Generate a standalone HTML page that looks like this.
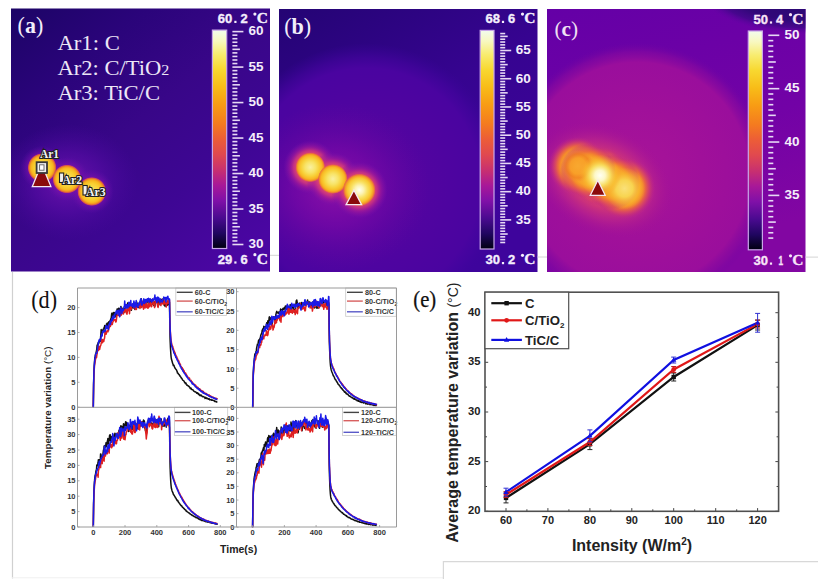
<!DOCTYPE html>
<html><head><meta charset="utf-8"><style>
html,body{margin:0;padding:0;background:#fff;width:818px;height:579px;overflow:hidden;}
svg{display:block;}
</style></head><body>
<svg width="818" height="579" viewBox="0 0 818 579">
<defs><linearGradient id="iron" x1="0" y1="0" x2="0" y2="1"><stop offset="0" stop-color="#f2fcee"/><stop offset="0.05" stop-color="#f8f8c0"/><stop offset="0.11" stop-color="#f8ec70"/><stop offset="0.18" stop-color="#f8d830"/><stop offset="0.26" stop-color="#f8bc18"/><stop offset="0.34" stop-color="#f89c14"/><stop offset="0.43" stop-color="#f47a20"/><stop offset="0.5" stop-color="#ec5c38"/><stop offset="0.57" stop-color="#e04850"/><stop offset="0.64" stop-color="#c83070"/><stop offset="0.71" stop-color="#a81898"/><stop offset="0.78" stop-color="#8010a8"/><stop offset="0.86" stop-color="#4a0a90"/><stop offset="0.93" stop-color="#200660"/><stop offset="1.0" stop-color="#000010"/></linearGradient><linearGradient id="bgA" x1="0" y1="0" x2="0.8" y2="1"><stop offset="0" stop-color="#1c0466"/><stop offset="0.25" stop-color="#2a047a"/><stop offset="0.5" stop-color="#380688"/><stop offset="0.75" stop-color="#3e0694"/><stop offset="1" stop-color="#4a06a2"/></linearGradient><clipPath id="clipA"><rect x="11" y="8.5" width="259" height="263"/></clipPath><radialGradient id="glowA"><stop offset="0" stop-color="#7414b0" stop-opacity="0.9"/><stop offset="0.5" stop-color="#5a0ca8" stop-opacity="0.6"/><stop offset="1" stop-color="#4a08a0" stop-opacity="0"/></radialGradient><radialGradient id="haloA"><stop offset="0" stop-color="#c02890" stop-opacity="1"/><stop offset="0.45" stop-color="#a01ca0" stop-opacity="0.9"/><stop offset="0.7" stop-color="#7a10ac" stop-opacity="0.5"/><stop offset="1" stop-color="#6010a8" stop-opacity="0"/></radialGradient><radialGradient id="coreA"><stop offset="0" stop-color="#f8e070" stop-opacity="1"/><stop offset="0.55" stop-color="#f8d030" stop-opacity="1"/><stop offset="0.75" stop-color="#f8b820" stop-opacity="1"/><stop offset="0.86" stop-color="#f09020" stop-opacity="1"/><stop offset="0.94" stop-color="#e86038" stop-opacity="0.8"/><stop offset="1" stop-color="#d04060" stop-opacity="0"/></radialGradient><clipPath id="clipB"><rect x="279" y="9" width="258.5" height="263"/></clipPath><linearGradient id="bgB" x1="0" y1="0" x2="0.6" y2="1"><stop offset="0" stop-color="#240474"/><stop offset="0.5" stop-color="#360490"/><stop offset="1" stop-color="#3e049c"/></linearGradient><radialGradient id="ringB"><stop offset="0" stop-color="#5a05a0" stop-opacity="1"/><stop offset="0.6" stop-color="#4e04a0" stop-opacity="1"/><stop offset="0.82" stop-color="#4a04a0" stop-opacity="1"/><stop offset="0.9" stop-color="#4604a0" stop-opacity="0.6"/><stop offset="1" stop-color="#3c049c" stop-opacity="0"/></radialGradient><radialGradient id="glowB"><stop offset="0" stop-color="#9010a8" stop-opacity="0.95"/><stop offset="0.45" stop-color="#7608a6" stop-opacity="0.75"/><stop offset="1" stop-color="#5e06a0" stop-opacity="0"/></radialGradient><radialGradient id="haloB"><stop offset="0" stop-color="#e85060" stop-opacity="1"/><stop offset="0.5" stop-color="#e04870" stop-opacity="1"/><stop offset="0.62" stop-color="#cc3480" stop-opacity="0.9"/><stop offset="0.76" stop-color="#a81c98" stop-opacity="0.6"/><stop offset="0.9" stop-color="#8814a4" stop-opacity="0.3"/><stop offset="1" stop-color="#7010a8" stop-opacity="0"/></radialGradient><radialGradient id="coreB"><stop offset="0" stop-color="#faf0a0" stop-opacity="1"/><stop offset="0.35" stop-color="#f8e468" stop-opacity="1"/><stop offset="0.6" stop-color="#f8d038" stop-opacity="1"/><stop offset="0.78" stop-color="#f8b824" stop-opacity="1"/><stop offset="0.88" stop-color="#f49424" stop-opacity="1"/><stop offset="0.95" stop-color="#e86840" stop-opacity="0.7"/><stop offset="1" stop-color="#d04060" stop-opacity="0"/></radialGradient><radialGradient id="coreB3"><stop offset="0" stop-color="#fffff0" stop-opacity="1"/><stop offset="0.25" stop-color="#fcf4b8" stop-opacity="1"/><stop offset="0.5" stop-color="#f9e060" stop-opacity="1"/><stop offset="0.72" stop-color="#f8c830" stop-opacity="1"/><stop offset="0.86" stop-color="#f49a28" stop-opacity="1"/><stop offset="0.95" stop-color="#e86840" stop-opacity="0.7"/><stop offset="1" stop-color="#d04060" stop-opacity="0"/></radialGradient><clipPath id="clipC"><rect x="547" y="9" width="258.5" height="263"/></clipPath><linearGradient id="bgC" x1="0" y1="0" x2="0.3" y2="1"><stop offset="0" stop-color="#6400a6"/><stop offset="0.6" stop-color="#7202a6"/><stop offset="1" stop-color="#8206a2"/></linearGradient><radialGradient id="ringC"><stop offset="0" stop-color="#a81498" stop-opacity="1"/><stop offset="0.5" stop-color="#a0109a" stop-opacity="1"/><stop offset="0.85" stop-color="#9a0e9c" stop-opacity="1"/><stop offset="0.93" stop-color="#8a0a9e" stop-opacity="0.6"/><stop offset="1" stop-color="#7004a2" stop-opacity="0"/></radialGradient><radialGradient id="cornerC"><stop offset="0" stop-color="#280870" stop-opacity="1"/><stop offset="0.7" stop-color="#300878" stop-opacity="1"/><stop offset="0.86" stop-color="#3c0886" stop-opacity="0.75"/><stop offset="1" stop-color="#5a04a0" stop-opacity="0"/></radialGradient><radialGradient id="glowC"><stop offset="0" stop-color="#e85050" stop-opacity="1"/><stop offset="0.45" stop-color="#d83c70" stop-opacity="0.95"/><stop offset="0.7" stop-color="#c02888" stop-opacity="0.6"/><stop offset="1" stop-color="#a01098" stop-opacity="0"/></radialGradient><radialGradient id="bodyC"><stop offset="0" stop-color="#f8a830" stop-opacity="1"/><stop offset="0.5" stop-color="#f8a028" stop-opacity="1"/><stop offset="0.6" stop-color="#f48a2c" stop-opacity="1"/><stop offset="0.7" stop-color="#ec6840" stop-opacity="0.9"/><stop offset="0.82" stop-color="#dc4860" stop-opacity="0.6"/><stop offset="0.92" stop-color="#c83078" stop-opacity="0.3"/><stop offset="1" stop-color="#c02890" stop-opacity="0"/></radialGradient><radialGradient id="spotC1"><stop offset="0" stop-color="#f8a830" stop-opacity="1"/><stop offset="0.5" stop-color="#f8a028" stop-opacity="0.9"/><stop offset="0.75" stop-color="#f08020" stop-opacity="0.7"/><stop offset="1" stop-color="#f08830" stop-opacity="0"/></radialGradient><radialGradient id="spotC3"><stop offset="0" stop-color="#fae078" stop-opacity="1"/><stop offset="0.4" stop-color="#f8d450" stop-opacity="1"/><stop offset="0.7" stop-color="#f8b830" stop-opacity="0.7"/><stop offset="1" stop-color="#f8a030" stop-opacity="0"/></radialGradient><radialGradient id="spotC2"><stop offset="0" stop-color="#fffff4" stop-opacity="1"/><stop offset="0.25" stop-color="#fdf8c8" stop-opacity="1"/><stop offset="0.5" stop-color="#f8e060" stop-opacity="0.95"/><stop offset="0.75" stop-color="#f8c030" stop-opacity="0.6"/><stop offset="1" stop-color="#f8a830" stop-opacity="0"/></radialGradient></defs>
<rect x="11" y="8.5" width="259" height="263.0" fill="url(#bgA)"/>
<g clip-path="url(#clipA)">
<ellipse cx="68" cy="182" rx="70" ry="58" fill="url(#glowA)"/>
<circle cx="42.1" cy="167.7" r="22" fill="url(#haloA)"/>
<circle cx="67" cy="179" r="22" fill="url(#haloA)"/>
<circle cx="91.8" cy="191.5" r="22" fill="url(#haloA)"/>
<circle cx="42.1" cy="167.7" r="14.5" fill="url(#coreA)"/>
<circle cx="67" cy="179" r="14.5" fill="url(#coreA)"/>
<circle cx="91.8" cy="191.5" r="14.5" fill="url(#coreA)"/>
</g>
<polygon points="41.6,164 32.3,186.6 50.9,186.6" fill="#8a0a0c" stroke="#f4e8f4" stroke-width="1.3"/>
<rect x="36.6" y="162.2" width="10.4" height="10.8" fill="#f0f0f0" stroke="#383838" stroke-width="1.8"/>
<rect x="39.6" y="164.8" width="4.4" height="5.4" fill="#ffffff" stroke="#606060" stroke-width="0.9"/>
<text x="40" y="157.8" font-family='"Liberation Serif", serif' font-weight="bold" font-size="11.5" fill="#f4f4f4" stroke="#202020" stroke-width="2.2" paint-order="stroke" text-anchor="start" textLength="19" lengthAdjust="spacingAndGlyphs">Ar1</text>
<rect x="59.5" y="173" width="4.2" height="9.5" fill="#f0f0f0" stroke="#202020" stroke-width="1.1"/>
<text x="62.5" y="184" font-family='"Liberation Serif", serif' font-weight="bold" font-size="11.5" fill="#f4f4f4" stroke="#202020" stroke-width="2.2" paint-order="stroke" text-anchor="start" textLength="19.5" lengthAdjust="spacingAndGlyphs">Ar2</text>
<rect x="83" y="185.5" width="4.2" height="9.5" fill="#f0f0f0" stroke="#202020" stroke-width="1.1"/>
<text x="86" y="196.3" font-family='"Liberation Serif", serif' font-weight="bold" font-size="11.5" fill="#f4f4f4" stroke="#202020" stroke-width="2.2" paint-order="stroke" text-anchor="start" textLength="19.5" lengthAdjust="spacingAndGlyphs">Ar3</text>
<text x="17.6" y="32.8" font-family='"Liberation Serif", serif' font-weight="bold" font-size="23" fill="#f2eefa" textLength="25.6" lengthAdjust="spacingAndGlyphs"><tspan font-weight="normal">(</tspan>a<tspan font-weight="normal">)</tspan></text>
<text x="57.4" y="49.9" font-family='"Liberation Serif", serif' font-size="21.8" fill="#ece6f6" textLength="62.4" lengthAdjust="spacingAndGlyphs">Ar1: C</text>
<text x="57.4" y="75.0" font-family='"Liberation Serif", serif' font-size="21.8" fill="#ece6f6" textLength="112" lengthAdjust="spacingAndGlyphs">Ar2: C/TiO<tspan font-size="15.5">2</tspan></text>
<text x="57.4" y="100.1" font-family='"Liberation Serif", serif' font-size="21.8" fill="#ece6f6" textLength="102.6" lengthAdjust="spacingAndGlyphs">Ar3: TiC/C</text>
<rect x="212.4" y="30.1" width="14.299999999999983" height="218.4" fill="url(#iron)" stroke="#c8a8e8" stroke-width="1.2"/>
<rect x="232.4" y="243.70" width="11" height="1.6" fill="#e6d8f4"/>
<rect x="232.4" y="240.15" width="5" height="1.6" fill="#e6d8f4"/>
<rect x="232.4" y="236.60" width="5" height="1.6" fill="#e6d8f4"/>
<rect x="232.4" y="233.06" width="5" height="1.6" fill="#e6d8f4"/>
<rect x="232.4" y="229.51" width="5" height="1.6" fill="#e6d8f4"/>
<rect x="232.4" y="225.96" width="7.5" height="1.6" fill="#e6d8f4"/>
<rect x="232.4" y="222.41" width="5" height="1.6" fill="#e6d8f4"/>
<rect x="232.4" y="218.86" width="5" height="1.6" fill="#e6d8f4"/>
<rect x="232.4" y="215.31" width="5" height="1.6" fill="#e6d8f4"/>
<rect x="232.4" y="211.76" width="5" height="1.6" fill="#e6d8f4"/>
<rect x="232.4" y="208.22" width="11" height="1.6" fill="#e6d8f4"/>
<rect x="232.4" y="204.67" width="5" height="1.6" fill="#e6d8f4"/>
<rect x="232.4" y="201.12" width="5" height="1.6" fill="#e6d8f4"/>
<rect x="232.4" y="197.57" width="5" height="1.6" fill="#e6d8f4"/>
<rect x="232.4" y="194.02" width="5" height="1.6" fill="#e6d8f4"/>
<rect x="232.4" y="190.47" width="7.5" height="1.6" fill="#e6d8f4"/>
<rect x="232.4" y="186.93" width="5" height="1.6" fill="#e6d8f4"/>
<rect x="232.4" y="183.38" width="5" height="1.6" fill="#e6d8f4"/>
<rect x="232.4" y="179.83" width="5" height="1.6" fill="#e6d8f4"/>
<rect x="232.4" y="176.28" width="5" height="1.6" fill="#e6d8f4"/>
<rect x="232.4" y="172.73" width="11" height="1.6" fill="#e6d8f4"/>
<rect x="232.4" y="169.19" width="5" height="1.6" fill="#e6d8f4"/>
<rect x="232.4" y="165.64" width="5" height="1.6" fill="#e6d8f4"/>
<rect x="232.4" y="162.09" width="5" height="1.6" fill="#e6d8f4"/>
<rect x="232.4" y="158.54" width="5" height="1.6" fill="#e6d8f4"/>
<rect x="232.4" y="154.99" width="7.5" height="1.6" fill="#e6d8f4"/>
<rect x="232.4" y="151.44" width="5" height="1.6" fill="#e6d8f4"/>
<rect x="232.4" y="147.89" width="5" height="1.6" fill="#e6d8f4"/>
<rect x="232.4" y="144.35" width="5" height="1.6" fill="#e6d8f4"/>
<rect x="232.4" y="140.80" width="5" height="1.6" fill="#e6d8f4"/>
<rect x="232.4" y="137.25" width="11" height="1.6" fill="#e6d8f4"/>
<rect x="232.4" y="133.70" width="5" height="1.6" fill="#e6d8f4"/>
<rect x="232.4" y="130.15" width="5" height="1.6" fill="#e6d8f4"/>
<rect x="232.4" y="126.61" width="5" height="1.6" fill="#e6d8f4"/>
<rect x="232.4" y="123.06" width="5" height="1.6" fill="#e6d8f4"/>
<rect x="232.4" y="119.51" width="7.5" height="1.6" fill="#e6d8f4"/>
<rect x="232.4" y="115.96" width="5" height="1.6" fill="#e6d8f4"/>
<rect x="232.4" y="112.41" width="5" height="1.6" fill="#e6d8f4"/>
<rect x="232.4" y="108.86" width="5" height="1.6" fill="#e6d8f4"/>
<rect x="232.4" y="105.32" width="5" height="1.6" fill="#e6d8f4"/>
<rect x="232.4" y="101.77" width="11" height="1.6" fill="#e6d8f4"/>
<rect x="232.4" y="98.22" width="5" height="1.6" fill="#e6d8f4"/>
<rect x="232.4" y="94.67" width="5" height="1.6" fill="#e6d8f4"/>
<rect x="232.4" y="91.12" width="5" height="1.6" fill="#e6d8f4"/>
<rect x="232.4" y="87.57" width="5" height="1.6" fill="#e6d8f4"/>
<rect x="232.4" y="84.03" width="7.5" height="1.6" fill="#e6d8f4"/>
<rect x="232.4" y="80.48" width="5" height="1.6" fill="#e6d8f4"/>
<rect x="232.4" y="76.93" width="5" height="1.6" fill="#e6d8f4"/>
<rect x="232.4" y="73.38" width="5" height="1.6" fill="#e6d8f4"/>
<rect x="232.4" y="69.83" width="5" height="1.6" fill="#e6d8f4"/>
<rect x="232.4" y="66.28" width="11" height="1.6" fill="#e6d8f4"/>
<rect x="232.4" y="62.74" width="5" height="1.6" fill="#e6d8f4"/>
<rect x="232.4" y="59.19" width="5" height="1.6" fill="#e6d8f4"/>
<rect x="232.4" y="55.64" width="5" height="1.6" fill="#e6d8f4"/>
<rect x="232.4" y="52.09" width="5" height="1.6" fill="#e6d8f4"/>
<rect x="232.4" y="48.54" width="7.5" height="1.6" fill="#e6d8f4"/>
<rect x="232.4" y="44.99" width="5" height="1.6" fill="#e6d8f4"/>
<rect x="232.4" y="41.45" width="5" height="1.6" fill="#e6d8f4"/>
<rect x="232.4" y="37.90" width="5" height="1.6" fill="#e6d8f4"/>
<rect x="232.4" y="34.35" width="5" height="1.6" fill="#e6d8f4"/>
<rect x="232.4" y="30.80" width="11" height="1.6" fill="#e6d8f4"/>
<text x="248.6" y="35.40" font-family='"Liberation Sans", sans-serif' font-weight="bold" font-size="13" fill="#f4eefa" textLength="15" lengthAdjust="spacingAndGlyphs">60</text>
<text x="248.6" y="70.88" font-family='"Liberation Sans", sans-serif' font-weight="bold" font-size="13" fill="#f4eefa" textLength="15" lengthAdjust="spacingAndGlyphs">55</text>
<text x="248.6" y="106.37" font-family='"Liberation Sans", sans-serif' font-weight="bold" font-size="13" fill="#f4eefa" textLength="15" lengthAdjust="spacingAndGlyphs">50</text>
<text x="248.6" y="141.85" font-family='"Liberation Sans", sans-serif' font-weight="bold" font-size="13" fill="#f4eefa" textLength="15" lengthAdjust="spacingAndGlyphs">45</text>
<text x="248.6" y="177.33" font-family='"Liberation Sans", sans-serif' font-weight="bold" font-size="13" fill="#f4eefa" textLength="15" lengthAdjust="spacingAndGlyphs">40</text>
<text x="248.6" y="212.82" font-family='"Liberation Sans", sans-serif' font-weight="bold" font-size="13" fill="#f4eefa" textLength="15" lengthAdjust="spacingAndGlyphs">35</text>
<text x="248.6" y="248.30" font-family='"Liberation Sans", sans-serif' font-weight="bold" font-size="13" fill="#f4eefa" textLength="15" lengthAdjust="spacingAndGlyphs">30</text>
<text x="217.8" y="23" font-family='"Liberation Sans", sans-serif' font-weight='bold' fill='#f4eefc' stroke='#f4eefc' stroke-width='0.35' font-size="12.8" textLength="14.5" lengthAdjust="spacingAndGlyphs">60</text>
<rect x="234.3" y="20.8" width="2.2" height="2.2" fill="#f4eefc"/>
<text x="240.5" y="23" font-family='"Liberation Sans", sans-serif' font-weight='bold' fill='#f4eefc' stroke='#f4eefc' stroke-width='0.35' font-size="12.8" textLength="7.2" lengthAdjust="spacingAndGlyphs">2</text>
<circle cx="254.9" cy="14.1" r="1.6" fill="#f4eefc"/>
<text x="256.7" y="23.1" font-family='"Liberation Serif", serif' font-weight="bold" fill="#f4eefc" stroke="#f4eefc" stroke-width="0.3" font-size="14" textLength="11.2" lengthAdjust="spacingAndGlyphs">C</text>
<text x="217.8" y="263.6" font-family='"Liberation Sans", sans-serif' font-weight='bold' fill='#f4eefc' stroke='#f4eefc' stroke-width='0.35' font-size="12.8" textLength="14.5" lengthAdjust="spacingAndGlyphs">29</text>
<rect x="234.3" y="261.40000000000003" width="2.2" height="2.2" fill="#f4eefc"/>
<text x="240.5" y="263.6" font-family='"Liberation Sans", sans-serif' font-weight='bold' fill='#f4eefc' stroke='#f4eefc' stroke-width='0.35' font-size="12.8" textLength="7.2" lengthAdjust="spacingAndGlyphs">6</text>
<circle cx="254.9" cy="254.7" r="1.6" fill="#f4eefc"/>
<text x="256.7" y="263.7" font-family='"Liberation Serif", serif' font-weight="bold" fill="#f4eefc" stroke="#f4eefc" stroke-width="0.3" font-size="14" textLength="11.2" lengthAdjust="spacingAndGlyphs">C</text>
<rect x="279" y="9" width="258.5" height="263" fill="url(#bgB)"/>
<g clip-path="url(#clipB)">
<circle cx="366" cy="183" r="140" fill="url(#ringB)"/>
<ellipse cx="335" cy="188" rx="95" ry="85" fill="url(#glowB)"/>
<circle cx="310.3" cy="167.3" r="27" fill="url(#haloB)"/>
<circle cx="332.9" cy="179" r="27" fill="url(#haloB)"/>
<circle cx="359.3" cy="189.9" r="28.5" fill="url(#haloB)"/>
<circle cx="310.3" cy="167.3" r="15" fill="url(#coreB)"/>
<circle cx="332.9" cy="179" r="15" fill="url(#coreB)"/>
<circle cx="359.3" cy="189.9" r="16.5" fill="url(#coreB3)"/>
</g>
<polygon points="353.9,190.2 346.1,204.6 361.6,204.6" fill="#8a0a0c" stroke="#f4e8f4" stroke-width="1.3"/>
<text x="284.2" y="34.4" font-family='"Liberation Serif", serif' font-weight="bold" font-size="22.5" fill="#f2eefa" textLength="27" lengthAdjust="spacingAndGlyphs"><tspan font-weight="normal">(</tspan>b<tspan font-weight="normal">)</tspan></text>
<rect x="480.2" y="30.4" width="13.800000000000011" height="218.6" fill="url(#iron)" stroke="#c8a8e8" stroke-width="1.2"/>
<rect x="500.2" y="241.69" width="5" height="1.6" fill="#e6d8f4"/>
<rect x="500.2" y="238.86" width="5" height="1.6" fill="#e6d8f4"/>
<rect x="500.2" y="236.04" width="5" height="1.6" fill="#e6d8f4"/>
<rect x="500.2" y="233.22" width="7.5" height="1.6" fill="#e6d8f4"/>
<rect x="500.2" y="230.39" width="5" height="1.6" fill="#e6d8f4"/>
<rect x="500.2" y="227.57" width="5" height="1.6" fill="#e6d8f4"/>
<rect x="500.2" y="224.75" width="5" height="1.6" fill="#e6d8f4"/>
<rect x="500.2" y="221.92" width="5" height="1.6" fill="#e6d8f4"/>
<rect x="500.2" y="219.10" width="11" height="1.6" fill="#e6d8f4"/>
<rect x="500.2" y="216.28" width="5" height="1.6" fill="#e6d8f4"/>
<rect x="500.2" y="213.45" width="5" height="1.6" fill="#e6d8f4"/>
<rect x="500.2" y="210.63" width="5" height="1.6" fill="#e6d8f4"/>
<rect x="500.2" y="207.81" width="5" height="1.6" fill="#e6d8f4"/>
<rect x="500.2" y="204.98" width="7.5" height="1.6" fill="#e6d8f4"/>
<rect x="500.2" y="202.16" width="5" height="1.6" fill="#e6d8f4"/>
<rect x="500.2" y="199.34" width="5" height="1.6" fill="#e6d8f4"/>
<rect x="500.2" y="196.51" width="5" height="1.6" fill="#e6d8f4"/>
<rect x="500.2" y="193.69" width="5" height="1.6" fill="#e6d8f4"/>
<rect x="500.2" y="190.87" width="11" height="1.6" fill="#e6d8f4"/>
<rect x="500.2" y="188.04" width="5" height="1.6" fill="#e6d8f4"/>
<rect x="500.2" y="185.22" width="5" height="1.6" fill="#e6d8f4"/>
<rect x="500.2" y="182.40" width="5" height="1.6" fill="#e6d8f4"/>
<rect x="500.2" y="179.57" width="5" height="1.6" fill="#e6d8f4"/>
<rect x="500.2" y="176.75" width="7.5" height="1.6" fill="#e6d8f4"/>
<rect x="500.2" y="173.93" width="5" height="1.6" fill="#e6d8f4"/>
<rect x="500.2" y="171.10" width="5" height="1.6" fill="#e6d8f4"/>
<rect x="500.2" y="168.28" width="5" height="1.6" fill="#e6d8f4"/>
<rect x="500.2" y="165.46" width="5" height="1.6" fill="#e6d8f4"/>
<rect x="500.2" y="162.63" width="11" height="1.6" fill="#e6d8f4"/>
<rect x="500.2" y="159.81" width="5" height="1.6" fill="#e6d8f4"/>
<rect x="500.2" y="156.99" width="5" height="1.6" fill="#e6d8f4"/>
<rect x="500.2" y="154.16" width="5" height="1.6" fill="#e6d8f4"/>
<rect x="500.2" y="151.34" width="5" height="1.6" fill="#e6d8f4"/>
<rect x="500.2" y="148.52" width="7.5" height="1.6" fill="#e6d8f4"/>
<rect x="500.2" y="145.69" width="5" height="1.6" fill="#e6d8f4"/>
<rect x="500.2" y="142.87" width="5" height="1.6" fill="#e6d8f4"/>
<rect x="500.2" y="140.05" width="5" height="1.6" fill="#e6d8f4"/>
<rect x="500.2" y="137.22" width="5" height="1.6" fill="#e6d8f4"/>
<rect x="500.2" y="134.40" width="11" height="1.6" fill="#e6d8f4"/>
<rect x="500.2" y="131.58" width="5" height="1.6" fill="#e6d8f4"/>
<rect x="500.2" y="128.75" width="5" height="1.6" fill="#e6d8f4"/>
<rect x="500.2" y="125.93" width="5" height="1.6" fill="#e6d8f4"/>
<rect x="500.2" y="123.11" width="5" height="1.6" fill="#e6d8f4"/>
<rect x="500.2" y="120.28" width="7.5" height="1.6" fill="#e6d8f4"/>
<rect x="500.2" y="117.46" width="5" height="1.6" fill="#e6d8f4"/>
<rect x="500.2" y="114.64" width="5" height="1.6" fill="#e6d8f4"/>
<rect x="500.2" y="111.81" width="5" height="1.6" fill="#e6d8f4"/>
<rect x="500.2" y="108.99" width="5" height="1.6" fill="#e6d8f4"/>
<rect x="500.2" y="106.17" width="11" height="1.6" fill="#e6d8f4"/>
<rect x="500.2" y="103.34" width="5" height="1.6" fill="#e6d8f4"/>
<rect x="500.2" y="100.52" width="5" height="1.6" fill="#e6d8f4"/>
<rect x="500.2" y="97.70" width="5" height="1.6" fill="#e6d8f4"/>
<rect x="500.2" y="94.87" width="5" height="1.6" fill="#e6d8f4"/>
<rect x="500.2" y="92.05" width="7.5" height="1.6" fill="#e6d8f4"/>
<rect x="500.2" y="89.23" width="5" height="1.6" fill="#e6d8f4"/>
<rect x="500.2" y="86.40" width="5" height="1.6" fill="#e6d8f4"/>
<rect x="500.2" y="83.58" width="5" height="1.6" fill="#e6d8f4"/>
<rect x="500.2" y="80.76" width="5" height="1.6" fill="#e6d8f4"/>
<rect x="500.2" y="77.93" width="11" height="1.6" fill="#e6d8f4"/>
<rect x="500.2" y="75.11" width="5" height="1.6" fill="#e6d8f4"/>
<rect x="500.2" y="72.29" width="5" height="1.6" fill="#e6d8f4"/>
<rect x="500.2" y="69.46" width="5" height="1.6" fill="#e6d8f4"/>
<rect x="500.2" y="66.64" width="5" height="1.6" fill="#e6d8f4"/>
<rect x="500.2" y="63.82" width="7.5" height="1.6" fill="#e6d8f4"/>
<rect x="500.2" y="60.99" width="5" height="1.6" fill="#e6d8f4"/>
<rect x="500.2" y="58.17" width="5" height="1.6" fill="#e6d8f4"/>
<rect x="500.2" y="55.35" width="5" height="1.6" fill="#e6d8f4"/>
<rect x="500.2" y="52.52" width="5" height="1.6" fill="#e6d8f4"/>
<rect x="500.2" y="49.70" width="11" height="1.6" fill="#e6d8f4"/>
<rect x="500.2" y="46.88" width="5" height="1.6" fill="#e6d8f4"/>
<rect x="500.2" y="44.05" width="5" height="1.6" fill="#e6d8f4"/>
<rect x="500.2" y="41.23" width="5" height="1.6" fill="#e6d8f4"/>
<rect x="500.2" y="38.41" width="5" height="1.6" fill="#e6d8f4"/>
<rect x="500.2" y="35.58" width="7.5" height="1.6" fill="#e6d8f4"/>
<rect x="500.2" y="32.76" width="5" height="1.6" fill="#e6d8f4"/>
<text x="515.7" y="54.30" font-family='"Liberation Sans", sans-serif' font-weight="bold" font-size="13" fill="#f4eefa" textLength="15" lengthAdjust="spacingAndGlyphs">65</text>
<text x="515.7" y="82.53" font-family='"Liberation Sans", sans-serif' font-weight="bold" font-size="13" fill="#f4eefa" textLength="15" lengthAdjust="spacingAndGlyphs">60</text>
<text x="515.7" y="110.77" font-family='"Liberation Sans", sans-serif' font-weight="bold" font-size="13" fill="#f4eefa" textLength="15" lengthAdjust="spacingAndGlyphs">55</text>
<text x="515.7" y="139.00" font-family='"Liberation Sans", sans-serif' font-weight="bold" font-size="13" fill="#f4eefa" textLength="15" lengthAdjust="spacingAndGlyphs">50</text>
<text x="515.7" y="167.23" font-family='"Liberation Sans", sans-serif' font-weight="bold" font-size="13" fill="#f4eefa" textLength="15" lengthAdjust="spacingAndGlyphs">45</text>
<text x="515.7" y="195.47" font-family='"Liberation Sans", sans-serif' font-weight="bold" font-size="13" fill="#f4eefa" textLength="15" lengthAdjust="spacingAndGlyphs">40</text>
<text x="515.7" y="223.70" font-family='"Liberation Sans", sans-serif' font-weight="bold" font-size="13" fill="#f4eefa" textLength="15" lengthAdjust="spacingAndGlyphs">35</text>
<text x="485.4" y="23" font-family='"Liberation Sans", sans-serif' font-weight='bold' fill='#f4eefc' stroke='#f4eefc' stroke-width='0.35' font-size="12.8" textLength="14.5" lengthAdjust="spacingAndGlyphs">68</text>
<rect x="501.9" y="20.8" width="2.2" height="2.2" fill="#f4eefc"/>
<text x="508.1" y="23" font-family='"Liberation Sans", sans-serif' font-weight='bold' fill='#f4eefc' stroke='#f4eefc' stroke-width='0.35' font-size="12.8" textLength="7.2" lengthAdjust="spacingAndGlyphs">6</text>
<circle cx="522.5" cy="14.1" r="1.6" fill="#f4eefc"/>
<text x="524.3" y="23.1" font-family='"Liberation Serif", serif' font-weight="bold" fill="#f4eefc" stroke="#f4eefc" stroke-width="0.3" font-size="14" textLength="11.2" lengthAdjust="spacingAndGlyphs">C</text>
<text x="485.4" y="264.2" font-family='"Liberation Sans", sans-serif' font-weight='bold' fill='#f4eefc' stroke='#f4eefc' stroke-width='0.35' font-size="12.8" textLength="14.5" lengthAdjust="spacingAndGlyphs">30</text>
<rect x="501.9" y="262.0" width="2.2" height="2.2" fill="#f4eefc"/>
<text x="508.1" y="264.2" font-family='"Liberation Sans", sans-serif' font-weight='bold' fill='#f4eefc' stroke='#f4eefc' stroke-width='0.35' font-size="12.8" textLength="7.2" lengthAdjust="spacingAndGlyphs">2</text>
<circle cx="522.5" cy="255.3" r="1.6" fill="#f4eefc"/>
<text x="524.3" y="264.3" font-family='"Liberation Serif", serif' font-weight="bold" fill="#f4eefc" stroke="#f4eefc" stroke-width="0.3" font-size="14" textLength="11.2" lengthAdjust="spacingAndGlyphs">C</text>
<rect x="547" y="9" width="258.5" height="263" fill="url(#bgC)"/>
<g clip-path="url(#clipC)">
<ellipse cx="808" cy="-10" rx="108" ry="44" fill="url(#cornerC)"/>
<circle cx="637" cy="174.5" r="132" fill="url(#ringC)"/>
<ellipse cx="603" cy="180" rx="74" ry="54" transform="rotate(26 603 180)" fill="url(#glowC)"/>
<circle cx="577.5" cy="166" r="29" fill="url(#bodyC)"/>
<circle cx="600" cy="176" r="30" fill="url(#bodyC)"/>
<circle cx="624" cy="188" r="31" fill="url(#bodyC)"/>
<circle cx="612" cy="182" r="28" fill="url(#bodyC)"/>
<circle cx="588" cy="171" r="28" fill="url(#bodyC)"/>
<circle cx="578" cy="166" r="16" fill="url(#spotC1)"/>
<circle cx="624.5" cy="188.5" r="21" fill="url(#spotC3)"/>
<circle cx="600" cy="175.5" r="21" fill="url(#spotC2)"/>
</g>
<polygon points="597.8,180.2 590.3,195.3 605.2,195.3" fill="#8a0a0c" stroke="#f4e8f4" stroke-width="1.3"/>
<text x="554.4" y="36.2" font-family='"Liberation Serif", serif' font-weight="bold" font-size="22" fill="#f0e0f4" textLength="23.6" lengthAdjust="spacingAndGlyphs"><tspan font-weight="normal">(</tspan>c<tspan font-weight="normal">)</tspan></text>
<rect x="748.3" y="31" width="14.100000000000023" height="218.8" fill="url(#iron)" stroke="#c8a8e8" stroke-width="1.2"/>
<rect x="768.3" y="237.29" width="5" height="1.6" fill="#e6d8f4"/>
<rect x="768.3" y="231.96" width="5" height="1.6" fill="#e6d8f4"/>
<rect x="768.3" y="226.62" width="5" height="1.6" fill="#e6d8f4"/>
<rect x="768.3" y="221.28" width="7.5" height="1.6" fill="#e6d8f4"/>
<rect x="768.3" y="215.95" width="5" height="1.6" fill="#e6d8f4"/>
<rect x="768.3" y="210.61" width="5" height="1.6" fill="#e6d8f4"/>
<rect x="768.3" y="205.27" width="5" height="1.6" fill="#e6d8f4"/>
<rect x="768.3" y="199.94" width="5" height="1.6" fill="#e6d8f4"/>
<rect x="768.3" y="194.60" width="11" height="1.6" fill="#e6d8f4"/>
<rect x="768.3" y="189.26" width="5" height="1.6" fill="#e6d8f4"/>
<rect x="768.3" y="183.93" width="5" height="1.6" fill="#e6d8f4"/>
<rect x="768.3" y="178.59" width="5" height="1.6" fill="#e6d8f4"/>
<rect x="768.3" y="173.25" width="5" height="1.6" fill="#e6d8f4"/>
<rect x="768.3" y="167.92" width="7.5" height="1.6" fill="#e6d8f4"/>
<rect x="768.3" y="162.58" width="5" height="1.6" fill="#e6d8f4"/>
<rect x="768.3" y="157.24" width="5" height="1.6" fill="#e6d8f4"/>
<rect x="768.3" y="151.91" width="5" height="1.6" fill="#e6d8f4"/>
<rect x="768.3" y="146.57" width="5" height="1.6" fill="#e6d8f4"/>
<rect x="768.3" y="141.23" width="11" height="1.6" fill="#e6d8f4"/>
<rect x="768.3" y="135.90" width="5" height="1.6" fill="#e6d8f4"/>
<rect x="768.3" y="130.56" width="5" height="1.6" fill="#e6d8f4"/>
<rect x="768.3" y="125.22" width="5" height="1.6" fill="#e6d8f4"/>
<rect x="768.3" y="119.89" width="5" height="1.6" fill="#e6d8f4"/>
<rect x="768.3" y="114.55" width="7.5" height="1.6" fill="#e6d8f4"/>
<rect x="768.3" y="109.21" width="5" height="1.6" fill="#e6d8f4"/>
<rect x="768.3" y="103.88" width="5" height="1.6" fill="#e6d8f4"/>
<rect x="768.3" y="98.54" width="5" height="1.6" fill="#e6d8f4"/>
<rect x="768.3" y="93.20" width="5" height="1.6" fill="#e6d8f4"/>
<rect x="768.3" y="87.87" width="11" height="1.6" fill="#e6d8f4"/>
<rect x="768.3" y="82.53" width="5" height="1.6" fill="#e6d8f4"/>
<rect x="768.3" y="77.19" width="5" height="1.6" fill="#e6d8f4"/>
<rect x="768.3" y="71.86" width="5" height="1.6" fill="#e6d8f4"/>
<rect x="768.3" y="66.52" width="5" height="1.6" fill="#e6d8f4"/>
<rect x="768.3" y="61.18" width="7.5" height="1.6" fill="#e6d8f4"/>
<rect x="768.3" y="55.85" width="5" height="1.6" fill="#e6d8f4"/>
<rect x="768.3" y="50.51" width="5" height="1.6" fill="#e6d8f4"/>
<rect x="768.3" y="45.17" width="5" height="1.6" fill="#e6d8f4"/>
<rect x="768.3" y="39.84" width="5" height="1.6" fill="#e6d8f4"/>
<rect x="768.3" y="34.50" width="11" height="1.6" fill="#e6d8f4"/>
<text x="784.4" y="39.10" font-family='"Liberation Sans", sans-serif' font-weight="bold" font-size="13" fill="#f4eefa" textLength="15" lengthAdjust="spacingAndGlyphs">50</text>
<text x="784.4" y="92.47" font-family='"Liberation Sans", sans-serif' font-weight="bold" font-size="13" fill="#f4eefa" textLength="15" lengthAdjust="spacingAndGlyphs">45</text>
<text x="784.4" y="145.83" font-family='"Liberation Sans", sans-serif' font-weight="bold" font-size="13" fill="#f4eefa" textLength="15" lengthAdjust="spacingAndGlyphs">40</text>
<text x="784.4" y="199.20" font-family='"Liberation Sans", sans-serif' font-weight="bold" font-size="13" fill="#f4eefa" textLength="15" lengthAdjust="spacingAndGlyphs">35</text>
<text x="753.4" y="23.6" font-family='"Liberation Sans", sans-serif' font-weight='bold' fill='#f8e4f8' stroke='#f8e4f8' stroke-width='0.35' font-size="12.8" textLength="14.5" lengthAdjust="spacingAndGlyphs">50</text>
<rect x="769.9" y="21.400000000000002" width="2.2" height="2.2" fill="#f8e4f8"/>
<text x="776.1" y="23.6" font-family='"Liberation Sans", sans-serif' font-weight='bold' fill='#f8e4f8' stroke='#f8e4f8' stroke-width='0.35' font-size="12.8" textLength="7.2" lengthAdjust="spacingAndGlyphs">4</text>
<circle cx="790.5" cy="14.7" r="1.6" fill="#f8e4f8"/>
<text x="792.3" y="23.7" font-family='"Liberation Serif", serif' font-weight="bold" fill="#f8e4f8" stroke="#f8e4f8" stroke-width="0.3" font-size="14" textLength="11.2" lengthAdjust="spacingAndGlyphs">C</text>
<text x="753.4" y="264.7" font-family='"Liberation Sans", sans-serif' font-weight='bold' fill='#f8e4f8' stroke='#f8e4f8' stroke-width='0.35' font-size="12.8" textLength="14.5" lengthAdjust="spacingAndGlyphs">30</text>
<rect x="769.9" y="262.5" width="2.2" height="2.2" fill="#f8e4f8"/>
<text x="778.5" y="264.7" font-family='"Liberation Sans", sans-serif' font-weight='bold' fill='#f8e4f8' stroke='#f8e4f8' stroke-width='0.35' font-size="12.8" textLength="4.6" lengthAdjust="spacingAndGlyphs">1</text>
<circle cx="790.5" cy="255.8" r="1.6" fill="#f8e4f8"/>
<text x="792.3" y="264.8" font-family='"Liberation Serif", serif' font-weight="bold" fill="#f8e4f8" stroke="#f8e4f8" stroke-width="0.3" font-size="14" textLength="11.2" lengthAdjust="spacingAndGlyphs">C</text>
<line x1="270" y1="255.3" x2="279" y2="255.3" stroke="#d4d4d4" stroke-width="1"/>
<line x1="537.5" y1="257" x2="547" y2="257" stroke="#d4d4d4" stroke-width="1"/>
<line x1="805.5" y1="257.1" x2="818" y2="257.1" stroke="#d4d4d4" stroke-width="1"/>
<line x1="12.5" y1="272" x2="12.5" y2="578.5" stroke="#d0d0d0" stroke-width="1.2"/>
<line x1="12" y1="577.8" x2="443" y2="577.8" stroke="#f0f0f0" stroke-width="1"/>
<text x="31.2" y="308" font-family='"Liberation Serif", serif' font-size="24.2" fill="#111" textLength="25.9" lengthAdjust="spacingAndGlyphs">(d)</text>
<line x1="77.5" y1="407.2" x2="79.5" y2="407.2" stroke="#999" stroke-width="0.8"/>
<text x="75.5" y="409.8" text-anchor="end" font-family='"Liberation Sans", sans-serif' font-weight="bold" font-size="7.5" fill="#333">0</text>
<line x1="77.5" y1="382.3" x2="79.5" y2="382.3" stroke="#999" stroke-width="0.8"/>
<text x="75.5" y="384.9" text-anchor="end" font-family='"Liberation Sans", sans-serif' font-weight="bold" font-size="7.5" fill="#333">5</text>
<line x1="77.5" y1="357.4" x2="79.5" y2="357.4" stroke="#999" stroke-width="0.8"/>
<text x="75.5" y="360.0" text-anchor="end" font-family='"Liberation Sans", sans-serif' font-weight="bold" font-size="7.5" fill="#333">10</text>
<line x1="77.5" y1="332.5" x2="79.5" y2="332.5" stroke="#999" stroke-width="0.8"/>
<text x="75.5" y="335.1" text-anchor="end" font-family='"Liberation Sans", sans-serif' font-weight="bold" font-size="7.5" fill="#333">15</text>
<line x1="77.5" y1="307.6" x2="79.5" y2="307.6" stroke="#999" stroke-width="0.8"/>
<text x="75.5" y="310.2" text-anchor="end" font-family='"Liberation Sans", sans-serif' font-weight="bold" font-size="7.5" fill="#333">20</text>
<path d="M93.3,407.2 L93.6,384.2 L93.9,371.7 L94.3,364.8 L94.6,360.5 L94.9,357.3 L95.2,356.2 L95.5,354.4 L95.8,353.1 L96.2,352.2 L96.5,350.6 L96.8,349.1 L97.1,345.2 L97.4,344.9 L97.7,344.6 L98.1,342.8 L98.4,344.0 L98.7,343.6 L99.0,341.3 L99.3,341.3 L99.6,341.7 L100.0,340.9 L100.3,341.4 L100.6,337.0 L100.9,334.0 L101.2,329.6 L101.6,331.9 L101.9,332.7 L102.2,332.8 L102.5,331.2 L102.8,331.0 L103.1,329.2 L103.5,329.8 L103.8,331.8 L104.1,327.3 L104.4,328.2 L104.7,325.6 L105.0,326.5 L105.4,325.8 L105.7,328.4 L106.0,328.4 L106.3,325.7 L106.6,323.7 L107.0,323.7 L107.3,322.9 L107.6,325.7 L107.9,323.7 L108.2,323.7 L108.5,324.1 L108.9,321.7 L109.2,321.5 L109.5,322.0 L109.8,321.3 L110.1,320.7 L110.4,320.0 L110.8,318.8 L111.1,318.9 L111.4,316.4 L111.7,313.7 L112.0,313.0 L112.3,314.9 L112.7,316.3 L113.0,315.1 L113.3,315.3 L113.6,312.6 L113.9,312.9 L114.3,312.5 L114.6,314.0 L114.9,313.4 L115.2,315.1 L115.5,316.7 L115.8,314.4 L116.2,315.4 L116.5,314.9 L116.8,312.0 L117.1,309.0 L117.4,309.9 L117.7,311.1 L118.1,309.6 L118.4,308.4 L118.7,308.3 L119.0,310.6 L119.3,311.2 L119.7,308.7 L120.0,311.0 L120.3,310.1 L120.6,307.6 L120.9,306.4 L121.2,308.6 L121.6,309.1 L121.9,309.2 L122.2,310.7 L122.5,309.4 L122.8,310.2 L123.1,308.1 L123.5,309.7 L123.8,309.8 L124.1,309.7 L124.4,308.5 L124.7,312.1 L125.0,308.1 L125.4,307.9 L125.7,307.1 L126.0,304.7 L126.3,305.4 L126.6,305.1 L127.0,305.3 L127.3,304.2 L127.6,303.8 L127.9,302.7 L128.2,304.1 L128.5,306.6 L128.9,305.6 L129.2,307.4 L129.5,306.5 L129.8,306.5 L130.1,309.6 L130.4,308.1 L130.8,308.4 L131.1,309.1 L131.4,310.2 L131.7,307.0 L132.0,304.9 L132.4,306.7 L132.7,307.5 L133.0,307.6 L133.3,307.9 L133.6,305.3 L133.9,306.6 L134.3,303.9 L134.6,308.1 L134.9,309.4 L135.2,305.6 L135.5,305.5 L135.8,308.3 L136.2,302.6 L136.5,302.0 L136.8,302.2 L137.1,307.3 L137.4,304.2 L137.8,304.0 L138.1,304.2 L138.4,304.7 L138.7,307.3 L139.0,307.7 L139.3,305.1 L139.7,302.7 L140.0,301.9 L140.3,301.9 L140.6,302.2 L140.9,301.8 L141.2,298.7 L141.6,300.6 L141.9,304.4 L142.2,303.1 L142.5,303.7 L142.8,305.3 L143.1,306.4 L143.5,303.5 L143.8,304.4 L144.1,304.1 L144.4,305.0 L144.7,302.1 L145.1,303.1 L145.4,303.7 L145.7,305.9 L146.0,306.6 L146.3,303.0 L146.6,304.5 L147.0,301.9 L147.3,301.3 L147.6,301.3 L147.9,301.4 L148.2,301.9 L148.5,300.1 L148.9,300.9 L149.2,303.9 L149.5,303.7 L149.8,300.4 L150.1,303.2 L150.4,302.8 L150.8,302.6 L151.1,300.5 L151.4,302.7 L151.7,300.1 L152.0,302.8 L152.4,302.2 L152.7,304.1 L153.0,302.8 L153.3,303.5 L153.6,305.4 L153.9,303.2 L154.3,304.3 L154.6,302.0 L154.9,306.3 L155.2,301.5 L155.5,301.8 L155.8,298.7 L156.2,298.8 L156.5,300.0 L156.8,301.1 L157.1,302.1 L157.4,300.6 L157.8,301.3 L158.1,303.9 L158.4,303.1 L158.7,301.4 L159.0,301.2 L159.3,300.7 L159.7,300.1 L160.0,304.8 L160.3,302.8 L160.6,299.5 L160.9,299.4 L161.2,300.7 L161.6,302.8 L161.9,303.1 L162.2,299.0 L162.5,300.7 L162.8,299.9 L163.1,300.6 L163.5,299.7 L163.8,302.4 L164.1,305.2 L164.4,304.0 L164.7,302.5 L165.1,306.4 L165.4,304.5 L165.7,302.7 L166.0,302.3 L166.3,302.5 L166.6,305.2 L167.0,304.9 L167.3,305.3 L167.6,302.1 L167.9,301.4 L168.2,300.5 L168.5,303.7 L168.9,304.8 L169.2,302.9 L169.5,302.2 L169.8,324.5 L170.1,339.8 L170.5,348.5 L170.8,353.3 L171.1,357.0 L171.4,359.0 L171.7,360.0 L172.0,361.0 L172.4,362.5 L172.7,363.6 L173.0,364.1 L173.3,365.5 L173.6,365.0 L173.9,365.4 L174.3,366.4 L174.6,367.4 L174.9,368.0 L175.2,368.4 L175.5,368.8 L175.8,369.1 L176.2,369.6 L176.5,370.0 L176.8,370.9 L177.1,371.2 L177.4,372.9 L177.8,373.0 L178.1,373.1 L178.4,373.9 L178.7,374.2 L179.0,374.6 L179.3,374.9 L179.7,375.5 L180.0,376.0 L180.3,376.5 L180.6,376.8 L180.9,377.0 L181.2,378.0 L181.6,378.1 L181.9,378.6 L182.2,379.1 L182.5,379.8 L182.8,380.1 L183.2,380.4 L183.5,380.6 L183.8,381.0 L184.1,381.2 L184.4,381.9 L184.7,382.6 L185.1,382.5 L185.4,383.6 L185.7,383.1 L186.0,383.1 L186.3,384.3 L186.6,384.5 L187.0,385.3 L187.3,385.1 L187.6,385.5 L187.9,385.6 L188.2,385.9 L188.6,386.4 L188.9,386.3 L189.2,386.6 L189.5,387.3 L189.8,387.3 L190.1,388.2 L190.5,388.6 L190.8,388.7 L191.1,388.1 L191.4,389.2 L191.7,389.5 L192.0,389.5 L192.4,389.7 L192.7,389.7 L193.0,389.9 L193.3,390.5 L193.6,390.9 L193.9,391.2 L194.3,391.5 L194.6,391.7 L194.9,391.8 L195.2,391.8 L195.5,391.9 L195.9,392.2 L196.2,392.6 L196.5,392.5 L196.8,393.3 L197.1,392.7 L197.4,393.2 L197.8,393.0 L198.1,393.7 L198.4,394.4 L198.7,393.6 L199.0,394.4 L199.3,394.9 L199.7,395.4 L200.0,395.6 L200.3,395.0 L200.6,395.1 L200.9,395.6 L201.2,395.1 L201.6,395.8 L201.9,395.8 L202.2,396.5 L202.5,396.6 L202.8,396.8 L203.2,396.5 L203.5,396.8 L203.8,396.9 L204.1,397.0 L204.4,397.2 L204.7,397.3 L205.1,398.4 L205.4,397.5 L205.7,397.6 L206.0,397.6 L206.3,398.1 L206.6,398.4 L207.0,398.7 L207.3,398.2 L207.6,398.8 L207.9,398.5 L208.2,398.8 L208.6,399.2 L208.9,399.0 L209.2,398.8 L209.5,399.3 L209.8,399.9 L210.1,399.5 L210.5,399.8 L210.8,399.7 L211.1,399.9 L211.4,399.8 L211.7,400.3 L212.0,400.2 L212.4,400.0 L212.7,400.3 L213.0,400.4 L213.3,400.5 L213.6,400.4 L213.9,400.5 L214.3,400.7 L214.6,401.5 L214.9,401.5 L215.2,401.4 L215.5,401.3 L215.9,401.7 L216.2,401.9 L216.5,401.6 L216.8,401.9 L217.1,402.0 L217.4,402.0" fill="none" stroke="#111111" stroke-width="1.5" stroke-linejoin="round"/>
<path d="M93.3,407.2 L93.6,386.5 L93.9,375.1 L94.3,368.6 L94.6,365.1 L94.9,363.3 L95.2,361.3 L95.5,359.5 L95.8,357.5 L96.2,357.8 L96.5,357.6 L96.8,355.4 L97.1,353.9 L97.4,351.4 L97.7,350.2 L98.1,350.4 L98.4,350.5 L98.7,345.9 L99.0,347.3 L99.3,348.5 L99.6,349.5 L100.0,347.6 L100.3,346.1 L100.6,345.7 L100.9,344.7 L101.2,343.3 L101.6,341.4 L101.9,339.4 L102.2,339.5 L102.5,342.7 L102.8,339.8 L103.1,341.7 L103.5,340.2 L103.8,341.4 L104.1,339.2 L104.4,339.0 L104.7,337.0 L105.0,330.2 L105.4,332.0 L105.7,331.2 L106.0,334.3 L106.3,333.9 L106.6,331.8 L107.0,331.8 L107.3,330.7 L107.6,330.3 L107.9,331.8 L108.2,329.7 L108.5,330.7 L108.9,326.3 L109.2,327.9 L109.5,326.4 L109.8,326.6 L110.1,324.9 L110.4,326.4 L110.8,324.3 L111.1,324.9 L111.4,322.6 L111.7,322.3 L112.0,322.7 L112.3,324.4 L112.7,322.5 L113.0,321.8 L113.3,319.1 L113.6,321.1 L113.9,320.3 L114.3,319.8 L114.6,319.8 L114.9,319.8 L115.2,319.6 L115.5,320.8 L115.8,322.0 L116.2,321.4 L116.5,319.2 L116.8,316.3 L117.1,315.5 L117.4,314.7 L117.7,314.7 L118.1,314.7 L118.4,315.4 L118.7,314.7 L119.0,312.4 L119.3,314.7 L119.7,316.5 L120.0,312.7 L120.3,313.5 L120.6,312.6 L120.9,312.1 L121.2,315.3 L121.6,310.7 L121.9,309.2 L122.2,311.0 L122.5,310.9 L122.8,311.9 L123.1,314.1 L123.5,313.8 L123.8,312.7 L124.1,310.8 L124.4,310.3 L124.7,311.1 L125.0,309.2 L125.4,311.7 L125.7,310.3 L126.0,308.9 L126.3,310.5 L126.6,313.9 L127.0,314.1 L127.3,312.2 L127.6,310.6 L127.9,307.8 L128.2,310.6 L128.5,310.4 L128.9,309.0 L129.2,309.6 L129.5,313.8 L129.8,310.4 L130.1,305.9 L130.4,305.6 L130.8,308.7 L131.1,309.5 L131.4,308.8 L131.7,304.3 L132.0,305.1 L132.4,306.4 L132.7,304.5 L133.0,306.2 L133.3,303.7 L133.6,306.8 L133.9,308.0 L134.3,306.5 L134.6,304.5 L134.9,304.6 L135.2,305.3 L135.5,309.3 L135.8,309.5 L136.2,309.4 L136.5,309.1 L136.8,307.0 L137.1,307.4 L137.4,305.6 L137.8,305.8 L138.1,306.6 L138.4,306.2 L138.7,305.4 L139.0,304.2 L139.3,305.8 L139.7,306.2 L140.0,308.4 L140.3,304.3 L140.6,302.4 L140.9,304.1 L141.2,305.5 L141.6,307.6 L141.9,306.2 L142.2,305.4 L142.5,301.4 L142.8,302.6 L143.1,305.0 L143.5,309.2 L143.8,304.7 L144.1,304.4 L144.4,307.3 L144.7,305.8 L145.1,308.0 L145.4,300.3 L145.7,300.2 L146.0,301.1 L146.3,302.8 L146.6,307.2 L147.0,306.0 L147.3,307.8 L147.6,305.1 L147.9,308.3 L148.2,307.9 L148.5,303.9 L148.9,301.0 L149.2,304.3 L149.5,306.7 L149.8,303.8 L150.1,302.2 L150.4,304.5 L150.8,305.3 L151.1,305.7 L151.4,306.7 L151.7,306.4 L152.0,302.8 L152.4,301.8 L152.7,298.9 L153.0,300.9 L153.3,302.2 L153.6,304.3 L153.9,303.9 L154.3,305.8 L154.6,307.6 L154.9,304.3 L155.2,301.1 L155.5,300.5 L155.8,299.2 L156.2,300.4 L156.5,302.7 L156.8,302.5 L157.1,303.2 L157.4,304.9 L157.8,306.8 L158.1,307.5 L158.4,305.3 L158.7,303.8 L159.0,304.0 L159.3,300.8 L159.7,301.2 L160.0,300.7 L160.3,299.3 L160.6,302.1 L160.9,305.6 L161.2,302.8 L161.6,303.8 L161.9,300.8 L162.2,300.8 L162.5,299.7 L162.8,299.5 L163.1,304.3 L163.5,302.0 L163.8,303.2 L164.1,304.0 L164.4,303.9 L164.7,301.7 L165.1,300.3 L165.4,299.3 L165.7,303.4 L166.0,303.7 L166.3,307.0 L166.6,304.9 L167.0,302.5 L167.3,303.5 L167.6,302.3 L167.9,301.7 L168.2,300.0 L168.5,302.2 L168.9,303.4 L169.2,304.0 L169.5,299.9 L169.8,316.3 L170.1,327.2 L170.5,333.5 L170.8,337.5 L171.1,340.2 L171.4,342.2 L171.7,343.7 L172.0,345.2 L172.4,346.0 L172.7,346.3 L173.0,347.6 L173.3,348.6 L173.6,349.5 L173.9,350.3 L174.3,351.0 L174.6,352.1 L174.9,352.6 L175.2,353.4 L175.5,354.4 L175.8,355.2 L176.2,356.0 L176.5,356.7 L176.8,356.9 L177.1,358.6 L177.4,358.6 L177.8,359.4 L178.1,360.1 L178.4,360.6 L178.7,360.9 L179.0,361.9 L179.3,362.6 L179.7,363.4 L180.0,363.9 L180.3,364.2 L180.6,365.2 L180.9,366.0 L181.2,366.6 L181.6,367.1 L181.9,367.8 L182.2,367.6 L182.5,368.4 L182.8,369.1 L183.2,369.2 L183.5,370.3 L183.8,370.4 L184.1,370.9 L184.4,372.1 L184.7,372.6 L185.1,373.0 L185.4,372.9 L185.7,373.3 L186.0,374.5 L186.3,374.3 L186.6,375.2 L187.0,375.6 L187.3,376.1 L187.6,376.5 L187.9,377.4 L188.2,377.6 L188.6,378.1 L188.9,378.0 L189.2,377.9 L189.5,378.1 L189.8,379.4 L190.1,380.2 L190.5,380.2 L190.8,380.8 L191.1,380.3 L191.4,381.1 L191.7,381.8 L192.0,381.7 L192.4,382.2 L192.7,383.2 L193.0,383.2 L193.3,383.5 L193.6,383.7 L193.9,384.0 L194.3,384.5 L194.6,384.7 L194.9,385.2 L195.2,385.6 L195.5,385.2 L195.9,385.9 L196.2,386.1 L196.5,387.0 L196.8,386.9 L197.1,386.9 L197.4,387.8 L197.8,387.4 L198.1,388.1 L198.4,388.1 L198.7,388.6 L199.0,388.7 L199.3,388.7 L199.7,389.4 L200.0,389.1 L200.3,390.0 L200.6,390.3 L200.9,390.1 L201.2,390.9 L201.6,390.9 L201.9,390.7 L202.2,390.9 L202.5,392.0 L202.8,391.5 L203.2,391.3 L203.5,391.8 L203.8,392.4 L204.1,392.7 L204.4,392.8 L204.7,393.3 L205.1,393.2 L205.4,393.4 L205.7,393.6 L206.0,393.4 L206.3,394.0 L206.6,394.6 L207.0,394.0 L207.3,394.8 L207.6,394.8 L207.9,394.9 L208.2,395.1 L208.6,395.5 L208.9,395.5 L209.2,394.9 L209.5,395.9 L209.8,395.9 L210.1,395.7 L210.5,396.0 L210.8,396.1 L211.1,396.2 L211.4,397.2 L211.7,397.1 L212.0,396.9 L212.4,396.9 L212.7,396.9 L213.0,397.2 L213.3,397.6 L213.6,397.6 L213.9,397.9 L214.3,397.9 L214.6,397.9 L214.9,398.3 L215.2,398.6 L215.5,398.7 L215.9,398.2 L216.2,398.3 L216.5,398.5 L216.8,398.7 L217.1,398.8 L217.4,399.2" fill="none" stroke="#e02020" stroke-width="1.5" stroke-linejoin="round"/>
<path d="M93.3,407.2 L93.6,384.9 L93.9,372.7 L94.3,366.0 L94.6,362.1 L94.9,359.0 L95.2,357.2 L95.5,356.0 L95.8,353.4 L96.2,353.2 L96.5,353.3 L96.8,353.2 L97.1,351.9 L97.4,349.4 L97.7,347.4 L98.1,345.4 L98.4,342.8 L98.7,341.0 L99.0,341.1 L99.3,339.6 L99.6,339.4 L100.0,341.1 L100.3,339.2 L100.6,339.2 L100.9,339.2 L101.2,335.1 L101.6,334.6 L101.9,336.2 L102.2,336.0 L102.5,331.4 L102.8,333.1 L103.1,332.0 L103.5,331.2 L103.8,330.7 L104.1,330.1 L104.4,331.3 L104.7,331.6 L105.0,331.0 L105.4,330.8 L105.7,328.3 L106.0,325.4 L106.3,327.8 L106.6,326.4 L107.0,328.1 L107.3,328.2 L107.6,327.3 L107.9,325.9 L108.2,325.9 L108.5,329.5 L108.9,324.2 L109.2,324.0 L109.5,324.4 L109.8,322.0 L110.1,322.8 L110.4,324.5 L110.8,321.8 L111.1,320.3 L111.4,321.5 L111.7,319.0 L112.0,318.3 L112.3,320.4 L112.7,316.2 L113.0,316.4 L113.3,318.8 L113.6,317.2 L113.9,316.7 L114.3,314.8 L114.6,317.7 L114.9,314.9 L115.2,313.4 L115.5,312.9 L115.8,312.6 L116.2,311.0 L116.5,311.1 L116.8,312.0 L117.1,314.1 L117.4,311.7 L117.7,310.5 L118.1,310.9 L118.4,311.3 L118.7,310.3 L119.0,315.4 L119.3,313.1 L119.7,316.7 L120.0,313.7 L120.3,310.5 L120.6,307.2 L120.9,309.4 L121.2,309.0 L121.6,309.5 L121.9,313.5 L122.2,310.4 L122.5,309.9 L122.8,309.4 L123.1,310.8 L123.5,309.9 L123.8,309.1 L124.1,306.4 L124.4,306.6 L124.7,301.0 L125.0,304.7 L125.4,306.4 L125.7,306.9 L126.0,308.4 L126.3,305.1 L126.6,304.7 L127.0,307.8 L127.3,307.0 L127.6,304.7 L127.9,307.8 L128.2,306.8 L128.5,306.8 L128.9,302.2 L129.2,303.0 L129.5,304.8 L129.8,306.0 L130.1,302.3 L130.4,304.3 L130.8,300.6 L131.1,305.2 L131.4,305.3 L131.7,305.4 L132.0,306.2 L132.4,305.7 L132.7,303.8 L133.0,305.1 L133.3,307.1 L133.6,303.3 L133.9,300.9 L134.3,303.3 L134.6,302.9 L134.9,307.7 L135.2,303.9 L135.5,305.9 L135.8,305.6 L136.2,300.6 L136.5,303.9 L136.8,303.4 L137.1,305.0 L137.4,307.2 L137.8,307.2 L138.1,304.6 L138.4,305.9 L138.7,305.4 L139.0,302.7 L139.3,302.7 L139.7,304.8 L140.0,300.9 L140.3,301.2 L140.6,299.0 L140.9,302.1 L141.2,299.0 L141.6,302.6 L141.9,305.2 L142.2,304.3 L142.5,303.7 L142.8,302.2 L143.1,302.8 L143.5,301.0 L143.8,298.8 L144.1,301.0 L144.4,303.5 L144.7,303.1 L145.1,300.7 L145.4,299.4 L145.7,300.7 L146.0,302.5 L146.3,301.8 L146.6,299.6 L147.0,301.4 L147.3,298.8 L147.6,299.2 L147.9,299.3 L148.2,301.0 L148.5,298.3 L148.9,299.2 L149.2,302.4 L149.5,300.0 L149.8,300.9 L150.1,298.7 L150.4,299.1 L150.8,300.7 L151.1,300.2 L151.4,301.0 L151.7,302.1 L152.0,301.1 L152.4,299.1 L152.7,299.4 L153.0,299.8 L153.3,300.8 L153.6,299.4 L153.9,299.1 L154.3,297.7 L154.6,298.0 L154.9,295.0 L155.2,299.9 L155.5,299.9 L155.8,298.9 L156.2,297.6 L156.5,301.2 L156.8,302.6 L157.1,301.3 L157.4,298.7 L157.8,297.1 L158.1,300.9 L158.4,300.0 L158.7,297.7 L159.0,298.4 L159.3,300.7 L159.7,301.3 L160.0,302.8 L160.3,299.1 L160.6,299.7 L160.9,300.2 L161.2,301.3 L161.6,300.6 L161.9,301.6 L162.2,302.2 L162.5,300.9 L162.8,300.5 L163.1,299.1 L163.5,298.9 L163.8,296.9 L164.1,298.0 L164.4,298.0 L164.7,298.1 L165.1,299.9 L165.4,297.4 L165.7,299.1 L166.0,301.9 L166.3,298.4 L166.6,297.5 L167.0,299.1 L167.3,297.4 L167.6,296.4 L167.9,296.3 L168.2,299.1 L168.5,298.1 L168.9,299.5 L169.2,299.4 L169.5,299.0 L169.8,316.7 L170.1,328.1 L170.5,335.6 L170.8,339.6 L171.1,342.6 L171.4,344.8 L171.7,346.0 L172.0,347.1 L172.4,348.0 L172.7,349.4 L173.0,349.6 L173.3,350.8 L173.6,351.5 L173.9,353.0 L174.3,353.7 L174.6,353.8 L174.9,355.0 L175.2,355.5 L175.5,356.0 L175.8,357.6 L176.2,357.7 L176.5,357.9 L176.8,359.0 L177.1,359.9 L177.4,360.4 L177.8,361.2 L178.1,361.7 L178.4,362.1 L178.7,363.2 L179.0,363.6 L179.3,364.3 L179.7,364.8 L180.0,365.4 L180.3,366.5 L180.6,366.4 L180.9,367.1 L181.2,368.2 L181.6,368.6 L181.9,369.5 L182.2,369.7 L182.5,370.0 L182.8,371.0 L183.2,371.4 L183.5,371.9 L183.8,372.4 L184.1,372.9 L184.4,373.5 L184.7,373.5 L185.1,374.2 L185.4,374.8 L185.7,374.7 L186.0,375.7 L186.3,375.7 L186.6,376.8 L187.0,376.4 L187.3,377.4 L187.6,378.0 L187.9,378.0 L188.2,378.9 L188.6,379.2 L188.9,379.2 L189.2,379.9 L189.5,380.0 L189.8,380.4 L190.1,380.8 L190.5,381.2 L190.8,381.4 L191.1,382.0 L191.4,382.0 L191.7,382.4 L192.0,383.6 L192.4,383.9 L192.7,383.2 L193.0,384.2 L193.3,384.3 L193.6,384.7 L193.9,384.9 L194.3,384.7 L194.6,385.8 L194.9,385.9 L195.2,386.2 L195.5,386.9 L195.9,387.1 L196.2,387.2 L196.5,387.4 L196.8,387.6 L197.1,388.6 L197.4,388.7 L197.8,388.0 L198.1,388.8 L198.4,388.8 L198.7,389.4 L199.0,389.8 L199.3,389.2 L199.7,390.4 L200.0,390.6 L200.3,390.3 L200.6,390.8 L200.9,391.5 L201.2,391.2 L201.6,391.2 L201.9,392.1 L202.2,392.1 L202.5,391.9 L202.8,391.7 L203.2,393.2 L203.5,392.9 L203.8,392.9 L204.1,393.4 L204.4,393.6 L204.7,393.7 L205.1,393.6 L205.4,394.2 L205.7,393.9 L206.0,394.1 L206.3,394.2 L206.6,394.2 L207.0,395.0 L207.3,395.0 L207.6,394.9 L207.9,395.0 L208.2,395.2 L208.6,395.8 L208.9,396.0 L209.2,396.4 L209.5,396.3 L209.8,396.6 L210.1,396.6 L210.5,396.8 L210.8,396.5 L211.1,396.7 L211.4,397.1 L211.7,397.6 L212.0,397.4 L212.4,397.4 L212.7,397.4 L213.0,397.7 L213.3,397.7 L213.6,398.2 L213.9,398.0 L214.3,398.1 L214.6,398.5 L214.9,398.8 L215.2,398.3 L215.5,399.1 L215.9,398.7 L216.2,399.1 L216.5,399.3 L216.8,399.3 L217.1,399.5 L217.4,399.5" fill="none" stroke="#1a1ae8" stroke-width="1.5" stroke-linejoin="round"/>
<rect x="175.8" y="288" width="50.69999999999999" height="27.5" fill="#fff" stroke="#c8c8c8" stroke-width="0.8"/>
<line x1="176.8" y1="292.3" x2="192.7" y2="292.3" stroke="#444" stroke-width="1.4"/>
<text x="194.8" y="294.90000000000003" font-family='"Liberation Sans", sans-serif' font-weight="bold" font-size="7.2" fill="#333">60-C</text>
<line x1="176.8" y1="301.1" x2="192.7" y2="301.1" stroke="#d86060" stroke-width="1.4"/>
<text x="194.8" y="303.70000000000005" font-family='"Liberation Sans", sans-serif' font-weight="bold" font-size="7.2" fill="#333">60-C/TiO<tspan font-size="5" dy="2">2</tspan></text>
<line x1="176.8" y1="311.8" x2="192.7" y2="311.8" stroke="#5a5ac8" stroke-width="1.4"/>
<text x="194.8" y="314.40000000000003" font-family='"Liberation Sans", sans-serif' font-weight="bold" font-size="7.2" fill="#333">60-TiC/C</text>
<line x1="236.5" y1="407.5" x2="238.5" y2="407.5" stroke="#999" stroke-width="0.8"/>
<text x="234.5" y="410.1" text-anchor="end" font-family='"Liberation Sans", sans-serif' font-weight="bold" font-size="7.5" fill="#333">0</text>
<line x1="236.5" y1="388.2" x2="238.5" y2="388.2" stroke="#999" stroke-width="0.8"/>
<text x="234.5" y="390.8" text-anchor="end" font-family='"Liberation Sans", sans-serif' font-weight="bold" font-size="7.5" fill="#333">5</text>
<line x1="236.5" y1="368.9" x2="238.5" y2="368.9" stroke="#999" stroke-width="0.8"/>
<text x="234.5" y="371.5" text-anchor="end" font-family='"Liberation Sans", sans-serif' font-weight="bold" font-size="7.5" fill="#333">10</text>
<line x1="236.5" y1="349.6" x2="238.5" y2="349.6" stroke="#999" stroke-width="0.8"/>
<text x="234.5" y="352.2" text-anchor="end" font-family='"Liberation Sans", sans-serif' font-weight="bold" font-size="7.5" fill="#333">15</text>
<line x1="236.5" y1="330.3" x2="238.5" y2="330.3" stroke="#999" stroke-width="0.8"/>
<text x="234.5" y="332.9" text-anchor="end" font-family='"Liberation Sans", sans-serif' font-weight="bold" font-size="7.5" fill="#333">20</text>
<line x1="236.5" y1="311.0" x2="238.5" y2="311.0" stroke="#999" stroke-width="0.8"/>
<text x="234.5" y="313.6" text-anchor="end" font-family='"Liberation Sans", sans-serif' font-weight="bold" font-size="7.5" fill="#333">25</text>
<line x1="236.5" y1="291.7" x2="238.5" y2="291.7" stroke="#999" stroke-width="0.8"/>
<text x="234.5" y="294.3" text-anchor="end" font-family='"Liberation Sans", sans-serif' font-weight="bold" font-size="7.5" fill="#333">30</text>
<path d="M252.7,407.5 L253.0,384.8 L253.3,372.7 L253.7,365.7 L254.0,362.3 L254.3,359.2 L254.6,356.3 L254.9,353.9 L255.2,353.9 L255.6,353.0 L255.9,351.8 L256.2,353.1 L256.5,348.9 L256.8,347.2 L257.1,345.9 L257.5,344.0 L257.8,344.4 L258.1,343.4 L258.4,341.4 L258.7,340.0 L259.1,341.0 L259.4,342.4 L259.7,339.6 L260.0,338.1 L260.3,339.5 L260.6,336.0 L261.0,334.6 L261.3,333.9 L261.6,333.7 L261.9,332.5 L262.2,330.1 L262.5,331.4 L262.9,328.7 L263.2,329.1 L263.5,328.8 L263.8,326.3 L264.1,327.0 L264.4,326.8 L264.8,328.1 L265.1,327.6 L265.4,326.8 L265.7,327.3 L266.0,327.7 L266.4,324.8 L266.7,322.8 L267.0,324.8 L267.3,325.3 L267.6,322.9 L267.9,320.7 L268.3,323.1 L268.6,323.1 L268.9,320.3 L269.2,317.1 L269.5,316.9 L269.8,320.4 L270.2,317.8 L270.5,318.5 L270.8,319.2 L271.1,318.2 L271.4,319.9 L271.8,320.3 L272.1,324.1 L272.4,318.9 L272.7,317.6 L273.0,317.9 L273.3,317.1 L273.7,316.7 L274.0,317.2 L274.3,317.7 L274.6,317.1 L274.9,320.4 L275.2,320.7 L275.6,318.5 L275.9,314.1 L276.2,313.2 L276.5,312.0 L276.8,311.4 L277.1,312.6 L277.5,312.2 L277.8,312.5 L278.1,313.3 L278.4,312.9 L278.7,311.9 L279.1,312.7 L279.4,313.5 L279.7,312.3 L280.0,311.8 L280.3,311.2 L280.6,309.1 L281.0,309.5 L281.3,310.0 L281.6,311.3 L281.9,312.8 L282.2,310.6 L282.5,309.3 L282.9,308.6 L283.2,308.2 L283.5,309.8 L283.8,308.9 L284.1,308.7 L284.4,307.8 L284.8,309.1 L285.1,307.0 L285.4,305.9 L285.7,308.8 L286.0,308.9 L286.4,308.7 L286.7,307.6 L287.0,305.7 L287.3,309.6 L287.6,307.0 L287.9,306.2 L288.3,307.8 L288.6,308.7 L288.9,307.2 L289.2,307.7 L289.5,308.3 L289.8,308.5 L290.2,304.5 L290.5,308.9 L290.8,304.9 L291.1,308.5 L291.4,305.8 L291.8,307.1 L292.1,306.8 L292.4,307.9 L292.7,307.9 L293.0,305.0 L293.3,307.0 L293.7,310.7 L294.0,309.5 L294.3,312.4 L294.6,311.0 L294.9,309.1 L295.2,308.9 L295.6,308.6 L295.9,304.2 L296.2,301.1 L296.5,300.4 L296.8,300.1 L297.1,301.9 L297.5,305.0 L297.8,306.5 L298.1,308.0 L298.4,308.3 L298.7,308.0 L299.1,305.8 L299.4,303.3 L299.7,303.5 L300.0,303.1 L300.3,305.3 L300.6,304.2 L301.0,306.1 L301.3,305.8 L301.6,302.5 L301.9,303.0 L302.2,304.3 L302.5,303.7 L302.9,305.4 L303.2,305.0 L303.5,306.5 L303.8,304.3 L304.1,304.7 L304.5,304.7 L304.8,304.2 L305.1,304.0 L305.4,303.8 L305.7,304.1 L306.0,304.8 L306.4,303.8 L306.7,303.4 L307.0,302.1 L307.3,301.0 L307.6,300.0 L307.9,302.0 L308.3,303.8 L308.6,303.4 L308.9,303.7 L309.2,302.0 L309.5,303.1 L309.8,302.0 L310.2,304.8 L310.5,303.3 L310.8,304.2 L311.1,305.7 L311.4,307.3 L311.8,307.7 L312.1,307.1 L312.4,303.1 L312.7,301.9 L313.0,302.0 L313.3,303.6 L313.7,303.2 L314.0,305.5 L314.3,307.8 L314.6,307.9 L314.9,306.1 L315.2,300.9 L315.6,305.4 L315.9,306.4 L316.2,307.0 L316.5,307.5 L316.8,308.1 L317.2,307.2 L317.5,307.8 L317.8,306.1 L318.1,308.1 L318.4,307.6 L318.7,307.8 L319.1,307.0 L319.4,304.8 L319.7,306.0 L320.0,305.2 L320.3,305.8 L320.6,304.8 L321.0,303.7 L321.3,304.4 L321.6,302.6 L321.9,304.8 L322.2,301.4 L322.5,304.5 L322.9,303.6 L323.2,302.6 L323.5,300.7 L323.8,302.2 L324.1,301.9 L324.5,302.1 L324.8,301.7 L325.1,301.9 L325.4,302.4 L325.7,302.9 L326.0,301.5 L326.4,302.0 L326.7,303.4 L327.0,305.6 L327.3,306.1 L327.6,307.3 L327.9,304.0 L328.3,301.9 L328.6,304.6 L328.9,304.3 L329.2,329.9 L329.5,346.6 L329.9,356.3 L330.2,362.3 L330.5,365.7 L330.8,367.9 L331.1,369.4 L331.4,370.6 L331.8,371.7 L332.1,372.4 L332.4,373.0 L332.7,374.0 L333.0,374.8 L333.3,375.8 L333.7,376.0 L334.0,376.6 L334.3,377.0 L334.6,378.2 L334.9,378.6 L335.2,379.6 L335.6,379.6 L335.9,380.0 L336.2,381.0 L336.5,381.2 L336.8,381.9 L337.2,382.2 L337.5,382.8 L337.8,383.4 L338.1,384.2 L338.4,384.4 L338.7,384.6 L339.1,385.0 L339.4,385.7 L339.7,385.9 L340.0,386.1 L340.3,387.1 L340.6,387.2 L341.0,387.6 L341.3,388.3 L341.6,388.6 L341.9,388.4 L342.2,389.1 L342.6,389.4 L342.9,390.1 L343.2,390.2 L343.5,390.5 L343.8,390.8 L344.1,391.6 L344.5,392.1 L344.8,391.7 L345.1,391.9 L345.4,392.4 L345.7,392.6 L346.0,393.5 L346.4,393.1 L346.7,393.5 L347.0,394.3 L347.3,394.4 L347.6,394.2 L347.9,394.2 L348.3,394.9 L348.6,395.3 L348.9,395.8 L349.2,395.8 L349.5,396.2 L349.9,396.1 L350.2,396.4 L350.5,396.3 L350.8,397.1 L351.1,397.1 L351.4,397.5 L351.8,397.5 L352.1,397.3 L352.4,398.1 L352.7,398.1 L353.0,398.0 L353.3,398.7 L353.7,398.7 L354.0,398.3 L354.3,399.3 L354.6,398.7 L354.9,399.1 L355.3,399.1 L355.6,399.6 L355.9,399.7 L356.2,400.1 L356.5,400.1 L356.8,400.1 L357.2,400.8 L357.5,400.3 L357.8,400.2 L358.1,400.8 L358.4,401.3 L358.7,400.7 L359.1,401.4 L359.4,401.4 L359.7,401.5 L360.0,401.1 L360.3,402.0 L360.6,401.7 L361.0,402.1 L361.3,402.4 L361.6,402.1 L361.9,402.1 L362.2,402.2 L362.6,402.1 L362.9,402.5 L363.2,402.6 L363.5,402.9 L363.8,402.5 L364.1,402.8 L364.5,402.8 L364.8,402.6 L365.1,402.7 L365.4,402.7 L365.7,403.7 L366.0,403.6 L366.4,403.7 L366.7,403.6 L367.0,403.4 L367.3,403.7 L367.6,404.1 L368.0,403.6 L368.3,403.6 L368.6,404.0 L368.9,404.1 L369.2,403.9 L369.5,404.1 L369.9,404.7 L370.2,404.3 L370.5,404.3 L370.8,403.8 L371.1,404.6 L371.4,404.5 L371.8,404.3 L372.1,404.8 L372.4,404.7 L372.7,405.0 L373.0,404.7 L373.4,405.0 L373.7,405.4 L374.0,404.9 L374.3,405.0 L374.6,405.1 L374.9,405.4 L375.3,405.4 L375.6,404.7 L375.9,405.5 L376.2,405.6 L376.5,405.1 L376.8,405.1" fill="none" stroke="#111111" stroke-width="1.5" stroke-linejoin="round"/>
<path d="M252.7,407.5 L253.0,387.0 L253.3,375.8 L253.7,370.0 L254.0,366.6 L254.3,363.9 L254.6,361.3 L254.9,360.1 L255.2,360.0 L255.6,359.4 L255.9,358.0 L256.2,355.9 L256.5,355.3 L256.8,354.9 L257.1,354.2 L257.5,352.9 L257.8,353.1 L258.1,351.8 L258.4,350.3 L258.7,346.8 L259.1,347.4 L259.4,345.5 L259.7,347.6 L260.0,345.2 L260.3,344.7 L260.6,345.3 L261.0,344.5 L261.3,342.1 L261.6,342.6 L261.9,340.2 L262.2,337.8 L262.5,336.0 L262.9,334.8 L263.2,338.7 L263.5,337.8 L263.8,338.8 L264.1,336.4 L264.4,336.2 L264.8,335.6 L265.1,334.6 L265.4,335.6 L265.7,334.8 L266.0,335.4 L266.4,330.8 L266.7,332.3 L267.0,332.1 L267.3,334.9 L267.6,335.6 L267.9,334.8 L268.3,331.3 L268.6,329.2 L268.9,328.7 L269.2,329.8 L269.5,325.9 L269.8,328.5 L270.2,329.4 L270.5,327.5 L270.8,328.8 L271.1,327.1 L271.4,324.8 L271.8,325.2 L272.1,324.4 L272.4,324.4 L272.7,325.5 L273.0,330.1 L273.3,329.2 L273.7,326.5 L274.0,327.6 L274.3,326.2 L274.6,324.0 L274.9,320.7 L275.2,323.4 L275.6,323.3 L275.9,321.8 L276.2,320.3 L276.5,322.6 L276.8,318.2 L277.1,320.3 L277.5,318.0 L277.8,318.8 L278.1,318.1 L278.4,315.4 L278.7,315.5 L279.1,316.4 L279.4,318.7 L279.7,319.3 L280.0,320.8 L280.3,315.6 L280.6,318.8 L281.0,322.2 L281.3,316.7 L281.6,314.2 L281.9,315.6 L282.2,314.1 L282.5,316.1 L282.9,316.7 L283.2,315.0 L283.5,314.2 L283.8,315.2 L284.1,312.0 L284.4,311.7 L284.8,312.5 L285.1,315.1 L285.4,314.2 L285.7,314.4 L286.0,314.0 L286.4,312.2 L286.7,313.5 L287.0,312.7 L287.3,311.3 L287.6,311.2 L287.9,307.7 L288.3,312.7 L288.6,312.4 L288.9,314.2 L289.2,313.1 L289.5,308.1 L289.8,312.4 L290.2,312.3 L290.5,310.6 L290.8,310.6 L291.1,309.1 L291.4,312.5 L291.8,309.9 L292.1,311.8 L292.4,313.2 L292.7,310.8 L293.0,309.6 L293.3,311.0 L293.7,311.9 L294.0,311.2 L294.3,310.5 L294.6,310.3 L294.9,311.6 L295.2,314.6 L295.6,309.8 L295.9,309.2 L296.2,311.2 L296.5,312.8 L296.8,312.2 L297.1,311.3 L297.5,313.7 L297.8,308.9 L298.1,307.9 L298.4,308.6 L298.7,307.8 L299.1,307.6 L299.4,305.9 L299.7,306.6 L300.0,305.0 L300.3,303.6 L300.6,306.0 L301.0,307.5 L301.3,309.0 L301.6,308.7 L301.9,309.4 L302.2,308.4 L302.5,307.4 L302.9,306.3 L303.2,308.7 L303.5,306.1 L303.8,307.0 L304.1,307.1 L304.5,307.9 L304.8,310.8 L305.1,308.5 L305.4,310.8 L305.7,307.0 L306.0,306.7 L306.4,303.9 L306.7,303.9 L307.0,303.8 L307.3,302.5 L307.6,304.3 L307.9,302.5 L308.3,304.3 L308.6,304.7 L308.9,306.5 L309.2,305.3 L309.5,304.4 L309.8,306.0 L310.2,308.1 L310.5,307.1 L310.8,305.8 L311.1,306.0 L311.4,307.6 L311.8,307.9 L312.1,307.3 L312.4,311.1 L312.7,309.6 L313.0,305.2 L313.3,307.5 L313.7,306.9 L314.0,303.3 L314.3,303.0 L314.6,302.4 L314.9,303.9 L315.2,306.8 L315.6,301.1 L315.9,302.4 L316.2,303.2 L316.5,301.2 L316.8,301.5 L317.2,303.0 L317.5,305.8 L317.8,305.7 L318.1,305.6 L318.4,306.4 L318.7,307.2 L319.1,307.9 L319.4,306.7 L319.7,306.8 L320.0,305.2 L320.3,303.2 L320.6,303.3 L321.0,303.9 L321.3,301.5 L321.6,301.8 L321.9,305.6 L322.2,306.4 L322.5,305.2 L322.9,306.4 L323.2,304.2 L323.5,307.4 L323.8,309.3 L324.1,305.4 L324.5,304.0 L324.8,306.9 L325.1,305.6 L325.4,302.7 L325.7,305.4 L326.0,306.9 L326.4,307.8 L326.7,307.9 L327.0,309.3 L327.3,307.8 L327.6,308.7 L327.9,306.6 L328.3,301.6 L328.6,304.6 L328.9,302.8 L329.2,325.9 L329.5,341.2 L329.9,349.2 L330.2,354.5 L330.5,357.9 L330.8,359.9 L331.1,361.8 L331.4,362.9 L331.8,364.2 L332.1,365.1 L332.4,366.1 L332.7,366.2 L333.0,367.5 L333.3,368.5 L333.7,368.6 L334.0,369.4 L334.3,370.5 L334.6,371.3 L334.9,372.0 L335.2,372.2 L335.6,373.2 L335.9,373.9 L336.2,374.2 L336.5,375.1 L336.8,375.6 L337.2,375.8 L337.5,376.6 L337.8,377.1 L338.1,377.9 L338.4,378.2 L338.7,379.1 L339.1,379.4 L339.4,379.9 L339.7,380.7 L340.0,381.4 L340.3,381.5 L340.6,382.1 L341.0,382.4 L341.3,383.2 L341.6,383.4 L341.9,383.7 L342.2,383.8 L342.6,384.4 L342.9,385.1 L343.2,385.3 L343.5,386.2 L343.8,386.2 L344.1,386.8 L344.5,386.9 L344.8,387.5 L345.1,388.0 L345.4,388.5 L345.7,388.4 L346.0,389.0 L346.4,389.2 L346.7,389.6 L347.0,390.5 L347.3,390.3 L347.6,390.8 L347.9,390.9 L348.3,391.2 L348.6,392.1 L348.9,392.0 L349.2,392.2 L349.5,392.4 L349.9,392.6 L350.2,393.2 L350.5,393.4 L350.8,393.5 L351.1,394.3 L351.4,393.7 L351.8,394.6 L352.1,394.3 L352.4,394.8 L352.7,394.7 L353.0,395.1 L353.3,395.6 L353.7,396.2 L354.0,396.0 L354.3,396.1 L354.6,396.3 L354.9,396.9 L355.3,397.0 L355.6,397.2 L355.9,397.2 L356.2,397.6 L356.5,397.6 L356.8,397.6 L357.2,398.1 L357.5,397.8 L357.8,398.3 L358.1,398.6 L358.4,398.4 L358.7,398.7 L359.1,399.1 L359.4,399.3 L359.7,399.3 L360.0,399.4 L360.3,399.3 L360.6,399.7 L361.0,400.0 L361.3,400.4 L361.6,400.1 L361.9,400.2 L362.2,400.2 L362.6,400.7 L362.9,401.0 L363.2,400.7 L363.5,401.0 L363.8,401.4 L364.1,400.8 L364.5,401.1 L364.8,401.4 L365.1,401.5 L365.4,401.8 L365.7,401.5 L366.0,402.0 L366.4,402.1 L366.7,402.2 L367.0,402.5 L367.3,402.1 L367.6,402.0 L368.0,402.3 L368.3,403.1 L368.6,402.7 L368.9,402.9 L369.2,402.8 L369.5,403.4 L369.9,403.5 L370.2,403.2 L370.5,403.0 L370.8,403.3 L371.1,402.8 L371.4,403.6 L371.8,403.5 L372.1,403.6 L372.4,403.8 L372.7,403.5 L373.0,404.1 L373.4,404.1 L373.7,404.0 L374.0,404.1 L374.3,403.8 L374.6,404.2 L374.9,404.1 L375.3,404.4 L375.6,404.0 L375.9,404.4 L376.2,404.4 L376.5,404.9 L376.8,404.4" fill="none" stroke="#e02020" stroke-width="1.5" stroke-linejoin="round"/>
<path d="M252.7,407.5 L253.0,385.5 L253.3,373.7 L253.7,366.1 L254.0,362.4 L254.3,360.1 L254.6,358.2 L254.9,357.3 L255.2,356.6 L255.6,354.7 L255.9,354.1 L256.2,352.1 L256.5,351.7 L256.8,352.9 L257.1,352.7 L257.5,351.7 L257.8,352.4 L258.1,349.7 L258.4,348.1 L258.7,344.8 L259.1,345.8 L259.4,344.9 L259.7,342.5 L260.0,340.6 L260.3,342.4 L260.6,338.4 L261.0,339.8 L261.3,336.9 L261.6,337.7 L261.9,338.1 L262.2,339.5 L262.5,337.9 L262.9,332.2 L263.2,334.2 L263.5,331.1 L263.8,329.5 L264.1,331.5 L264.4,329.6 L264.8,327.8 L265.1,329.6 L265.4,330.7 L265.7,328.1 L266.0,327.8 L266.4,324.2 L266.7,325.1 L267.0,328.2 L267.3,327.7 L267.6,329.3 L267.9,326.4 L268.3,324.7 L268.6,325.5 L268.9,326.7 L269.2,323.9 L269.5,324.4 L269.8,321.6 L270.2,323.9 L270.5,323.7 L270.8,323.9 L271.1,324.7 L271.4,318.2 L271.8,316.3 L272.1,319.3 L272.4,318.2 L272.7,322.1 L273.0,318.6 L273.3,316.8 L273.7,318.2 L274.0,318.9 L274.3,318.0 L274.6,317.0 L274.9,317.8 L275.2,319.0 L275.6,318.4 L275.9,318.3 L276.2,315.9 L276.5,315.7 L276.8,315.2 L277.1,318.2 L277.5,317.5 L277.8,316.9 L278.1,316.8 L278.4,315.8 L278.7,315.5 L279.1,317.5 L279.4,313.9 L279.7,311.9 L280.0,313.3 L280.3,311.9 L280.6,313.9 L281.0,315.5 L281.3,314.3 L281.6,310.4 L281.9,311.1 L282.2,314.0 L282.5,312.3 L282.9,312.8 L283.2,313.2 L283.5,311.4 L283.8,314.1 L284.1,315.7 L284.4,315.8 L284.8,311.1 L285.1,310.3 L285.4,311.1 L285.7,311.5 L286.0,309.3 L286.4,306.9 L286.7,309.1 L287.0,308.4 L287.3,304.2 L287.6,305.0 L287.9,307.0 L288.3,306.9 L288.6,307.2 L288.9,306.2 L289.2,306.2 L289.5,307.7 L289.8,307.8 L290.2,306.9 L290.5,308.2 L290.8,307.6 L291.1,308.9 L291.4,305.7 L291.8,303.3 L292.1,306.3 L292.4,304.8 L292.7,305.2 L293.0,305.5 L293.3,306.2 L293.7,305.6 L294.0,303.9 L294.3,307.0 L294.6,304.6 L294.9,305.5 L295.2,307.5 L295.6,306.7 L295.9,304.9 L296.2,305.2 L296.5,304.6 L296.8,305.4 L297.1,306.2 L297.5,303.8 L297.8,306.0 L298.1,303.6 L298.4,303.5 L298.7,304.5 L299.1,304.9 L299.4,305.2 L299.7,304.9 L300.0,304.7 L300.3,304.7 L300.6,308.0 L301.0,310.1 L301.3,306.7 L301.6,306.6 L301.9,306.4 L302.2,305.6 L302.5,306.8 L302.9,302.6 L303.2,303.1 L303.5,303.6 L303.8,305.5 L304.1,303.0 L304.5,301.9 L304.8,299.9 L305.1,299.8 L305.4,302.8 L305.7,305.3 L306.0,301.9 L306.4,303.7 L306.7,303.6 L307.0,303.6 L307.3,302.4 L307.6,301.7 L307.9,304.1 L308.3,304.7 L308.6,307.0 L308.9,304.1 L309.2,303.8 L309.5,306.3 L309.8,302.8 L310.2,302.7 L310.5,304.5 L310.8,304.3 L311.1,304.6 L311.4,303.4 L311.8,302.6 L312.1,303.5 L312.4,302.2 L312.7,307.0 L313.0,305.5 L313.3,302.9 L313.7,300.9 L314.0,300.0 L314.3,302.9 L314.6,305.6 L314.9,304.6 L315.2,299.4 L315.6,300.1 L315.9,302.3 L316.2,305.2 L316.5,303.5 L316.8,303.6 L317.2,302.0 L317.5,301.6 L317.8,305.9 L318.1,304.3 L318.4,301.8 L318.7,302.9 L319.1,304.5 L319.4,305.4 L319.7,306.1 L320.0,300.2 L320.3,298.4 L320.6,301.0 L321.0,298.9 L321.3,302.0 L321.6,302.8 L321.9,303.6 L322.2,303.1 L322.5,301.2 L322.9,297.8 L323.2,298.2 L323.5,299.9 L323.8,300.4 L324.1,301.3 L324.5,300.7 L324.8,302.6 L325.1,301.7 L325.4,300.8 L325.7,299.4 L326.0,301.8 L326.4,300.9 L326.7,300.6 L327.0,302.4 L327.3,305.5 L327.6,304.3 L327.9,301.0 L328.3,301.1 L328.6,296.4 L328.9,296.8 L329.2,325.4 L329.5,340.6 L329.9,349.5 L330.2,355.0 L330.5,358.6 L330.8,360.8 L331.1,361.9 L331.4,363.6 L331.8,364.9 L332.1,366.0 L332.4,367.1 L332.7,367.5 L333.0,368.4 L333.3,369.1 L333.7,369.9 L334.0,370.3 L334.3,370.9 L334.6,372.0 L334.9,372.9 L335.2,373.1 L335.6,373.5 L335.9,374.4 L336.2,375.0 L336.5,376.0 L336.8,376.4 L337.2,376.7 L337.5,377.3 L337.8,378.0 L338.1,378.4 L338.4,378.9 L338.7,379.6 L339.1,380.3 L339.4,381.0 L339.7,381.1 L340.0,381.7 L340.3,382.2 L340.6,382.3 L341.0,383.2 L341.3,383.6 L341.6,383.8 L341.9,384.6 L342.2,385.3 L342.6,385.4 L342.9,385.5 L343.2,386.2 L343.5,386.5 L343.8,387.3 L344.1,387.0 L344.5,388.1 L344.8,388.2 L345.1,388.4 L345.4,388.3 L345.7,389.1 L346.0,389.6 L346.4,390.1 L346.7,390.2 L347.0,390.7 L347.3,390.9 L347.6,391.0 L347.9,391.1 L348.3,391.9 L348.6,391.6 L348.9,392.7 L349.2,392.1 L349.5,393.0 L349.9,393.2 L350.2,393.5 L350.5,393.6 L350.8,393.9 L351.1,394.2 L351.4,394.6 L351.8,394.8 L352.1,394.9 L352.4,395.2 L352.7,395.5 L353.0,395.9 L353.3,395.8 L353.7,395.9 L354.0,396.5 L354.3,396.2 L354.6,396.6 L354.9,396.8 L355.3,397.4 L355.6,397.1 L355.9,397.1 L356.2,397.2 L356.5,397.9 L356.8,398.0 L357.2,398.0 L357.5,398.2 L357.8,398.7 L358.1,398.7 L358.4,398.6 L358.7,398.9 L359.1,399.2 L359.4,399.1 L359.7,399.8 L360.0,399.5 L360.3,399.9 L360.6,400.0 L361.0,399.9 L361.3,399.8 L361.6,400.2 L361.9,400.4 L362.2,400.2 L362.6,400.5 L362.9,401.4 L363.2,401.1 L363.5,401.2 L363.8,401.4 L364.1,401.7 L364.5,401.3 L364.8,401.5 L365.1,401.3 L365.4,401.8 L365.7,401.9 L366.0,402.2 L366.4,401.9 L366.7,401.9 L367.0,401.9 L367.3,402.1 L367.6,402.6 L368.0,402.3 L368.3,402.9 L368.6,402.9 L368.9,402.9 L369.2,402.4 L369.5,403.2 L369.9,403.3 L370.2,403.1 L370.5,403.0 L370.8,403.2 L371.1,403.3 L371.4,403.7 L371.8,403.7 L372.1,403.3 L372.4,403.7 L372.7,403.9 L373.0,403.9 L373.4,403.6 L373.7,403.6 L374.0,404.0 L374.3,404.3 L374.6,403.8 L374.9,404.4 L375.3,404.3 L375.6,404.3 L375.9,404.4 L376.2,404.5 L376.5,404.2 L376.8,404.5" fill="none" stroke="#1a1ae8" stroke-width="1.5" stroke-linejoin="round"/>
<rect x="345.7" y="288" width="50.5" height="28.30000000000001" fill="#fff" stroke="#c8c8c8" stroke-width="0.8"/>
<line x1="347" y1="292.3" x2="362.8" y2="292.3" stroke="#444" stroke-width="1.4"/>
<text x="365" y="294.90000000000003" font-family='"Liberation Sans", sans-serif' font-weight="bold" font-size="7.2" fill="#333">80-C</text>
<line x1="347" y1="301.1" x2="362.8" y2="301.1" stroke="#d86060" stroke-width="1.4"/>
<text x="365" y="303.70000000000005" font-family='"Liberation Sans", sans-serif' font-weight="bold" font-size="7.2" fill="#333">80-C/TiO<tspan font-size="5" dy="2">2</tspan></text>
<line x1="347" y1="311.8" x2="362.8" y2="311.8" stroke="#5a5ac8" stroke-width="1.4"/>
<text x="365" y="314.40000000000003" font-family='"Liberation Sans", sans-serif' font-weight="bold" font-size="7.2" fill="#333">80-TiC/C</text>
<line x1="77.5" y1="527.0" x2="79.5" y2="527.0" stroke="#999" stroke-width="0.8"/>
<text x="75.5" y="529.6" text-anchor="end" font-family='"Liberation Sans", sans-serif' font-weight="bold" font-size="7.5" fill="#333">0</text>
<line x1="77.5" y1="511.6" x2="79.5" y2="511.6" stroke="#999" stroke-width="0.8"/>
<text x="75.5" y="514.2" text-anchor="end" font-family='"Liberation Sans", sans-serif' font-weight="bold" font-size="7.5" fill="#333">5</text>
<line x1="77.5" y1="496.2" x2="79.5" y2="496.2" stroke="#999" stroke-width="0.8"/>
<text x="75.5" y="498.8" text-anchor="end" font-family='"Liberation Sans", sans-serif' font-weight="bold" font-size="7.5" fill="#333">10</text>
<line x1="77.5" y1="480.8" x2="79.5" y2="480.8" stroke="#999" stroke-width="0.8"/>
<text x="75.5" y="483.4" text-anchor="end" font-family='"Liberation Sans", sans-serif' font-weight="bold" font-size="7.5" fill="#333">15</text>
<line x1="77.5" y1="465.4" x2="79.5" y2="465.4" stroke="#999" stroke-width="0.8"/>
<text x="75.5" y="468.0" text-anchor="end" font-family='"Liberation Sans", sans-serif' font-weight="bold" font-size="7.5" fill="#333">20</text>
<line x1="77.5" y1="450.0" x2="79.5" y2="450.0" stroke="#999" stroke-width="0.8"/>
<text x="75.5" y="452.6" text-anchor="end" font-family='"Liberation Sans", sans-serif' font-weight="bold" font-size="7.5" fill="#333">25</text>
<line x1="77.5" y1="434.6" x2="79.5" y2="434.6" stroke="#999" stroke-width="0.8"/>
<text x="75.5" y="437.2" text-anchor="end" font-family='"Liberation Sans", sans-serif' font-weight="bold" font-size="7.5" fill="#333">30</text>
<line x1="77.5" y1="419.2" x2="79.5" y2="419.2" stroke="#999" stroke-width="0.8"/>
<text x="75.5" y="421.8" text-anchor="end" font-family='"Liberation Sans", sans-serif' font-weight="bold" font-size="7.5" fill="#333">35</text>
<path d="M93.3,527.0 L93.6,504.2 L93.9,491.8 L94.3,484.3 L94.6,480.2 L94.9,477.4 L95.2,475.1 L95.5,474.6 L95.8,472.2 L96.2,470.1 L96.5,469.6 L96.8,465.0 L97.1,465.9 L97.4,465.7 L97.7,464.6 L98.1,462.5 L98.4,459.7 L98.7,463.9 L99.0,465.0 L99.3,459.7 L99.6,459.9 L100.0,459.9 L100.3,458.9 L100.6,453.9 L100.9,454.1 L101.2,456.2 L101.6,458.5 L101.9,459.1 L102.2,457.5 L102.5,457.9 L102.8,458.4 L103.1,452.9 L103.5,449.9 L103.8,451.1 L104.1,446.2 L104.4,445.8 L104.7,447.7 L105.0,445.9 L105.4,445.2 L105.7,446.9 L106.0,442.7 L106.3,446.6 L106.6,443.5 L107.0,444.3 L107.3,441.2 L107.6,440.6 L107.9,438.4 L108.2,444.1 L108.5,443.1 L108.9,439.6 L109.2,440.7 L109.5,435.7 L109.8,435.3 L110.1,434.7 L110.4,437.3 L110.8,442.7 L111.1,440.1 L111.4,438.9 L111.7,436.5 L112.0,437.7 L112.3,440.2 L112.7,439.9 L113.0,441.8 L113.3,441.2 L113.6,438.6 L113.9,436.7 L114.3,434.3 L114.6,435.8 L114.9,433.3 L115.2,433.7 L115.5,436.6 L115.8,437.1 L116.2,435.4 L116.5,435.6 L116.8,435.7 L117.1,433.2 L117.4,435.6 L117.7,434.5 L118.1,435.1 L118.4,436.8 L118.7,434.6 L119.0,430.3 L119.3,431.2 L119.7,432.3 L120.0,428.4 L120.3,427.7 L120.6,427.3 L120.9,425.7 L121.2,426.8 L121.6,428.0 L121.9,426.4 L122.2,426.8 L122.5,430.7 L122.8,427.5 L123.1,427.4 L123.5,423.8 L123.8,425.6 L124.1,430.9 L124.4,429.5 L124.7,429.1 L125.0,424.4 L125.4,423.0 L125.7,421.7 L126.0,424.8 L126.3,425.3 L126.6,422.6 L127.0,426.6 L127.3,425.7 L127.6,423.5 L127.9,426.1 L128.2,426.1 L128.5,431.4 L128.9,426.5 L129.2,429.0 L129.5,425.2 L129.8,425.3 L130.1,429.3 L130.4,431.2 L130.8,431.8 L131.1,430.3 L131.4,426.1 L131.7,426.8 L132.0,425.8 L132.4,429.2 L132.7,427.2 L133.0,427.5 L133.3,427.0 L133.6,426.0 L133.9,423.0 L134.3,422.7 L134.6,422.8 L134.9,423.7 L135.2,425.2 L135.5,424.0 L135.8,423.4 L136.2,424.3 L136.5,424.4 L136.8,425.5 L137.1,427.5 L137.4,425.9 L137.8,428.8 L138.1,427.2 L138.4,428.4 L138.7,427.4 L139.0,423.1 L139.3,422.6 L139.7,421.9 L140.0,423.7 L140.3,426.5 L140.6,423.8 L140.9,422.0 L141.2,424.0 L141.6,424.8 L141.9,425.0 L142.2,425.3 L142.5,423.4 L142.8,421.5 L143.1,423.2 L143.5,420.0 L143.8,423.1 L144.1,422.3 L144.4,421.1 L144.7,427.8 L145.1,428.4 L145.4,430.5 L145.7,431.0 L146.0,430.3 L146.3,430.8 L146.6,433.0 L147.0,426.9 L147.3,424.2 L147.6,424.0 L147.9,423.1 L148.2,420.1 L148.5,422.8 L148.9,421.1 L149.2,424.2 L149.5,422.0 L149.8,420.6 L150.1,421.6 L150.4,422.6 L150.8,422.4 L151.1,424.6 L151.4,425.7 L151.7,424.5 L152.0,423.2 L152.4,425.4 L152.7,424.9 L153.0,423.7 L153.3,423.5 L153.6,424.4 L153.9,423.8 L154.3,423.4 L154.6,420.7 L154.9,419.7 L155.2,421.6 L155.5,419.2 L155.8,421.5 L156.2,423.9 L156.5,425.4 L156.8,424.6 L157.1,419.7 L157.4,419.8 L157.8,425.3 L158.1,424.9 L158.4,425.8 L158.7,426.6 L159.0,422.5 L159.3,420.5 L159.7,423.0 L160.0,422.0 L160.3,421.2 L160.6,420.9 L160.9,418.7 L161.2,419.0 L161.6,421.5 L161.9,421.4 L162.2,425.9 L162.5,426.1 L162.8,423.6 L163.1,423.5 L163.5,425.1 L163.8,425.9 L164.1,426.4 L164.4,424.3 L164.7,425.3 L165.1,423.6 L165.4,424.1 L165.7,422.4 L166.0,423.8 L166.3,427.1 L166.6,422.9 L167.0,423.0 L167.3,422.5 L167.6,420.8 L167.9,418.3 L168.2,419.6 L168.5,419.3 L168.9,418.6 L169.2,418.0 L169.5,422.4 L169.8,449.7 L170.1,466.8 L170.5,476.7 L170.8,482.5 L171.1,486.0 L171.4,488.3 L171.7,489.4 L172.0,490.7 L172.4,491.6 L172.7,492.4 L173.0,493.0 L173.3,494.2 L173.6,494.5 L173.9,495.1 L174.3,495.4 L174.6,496.1 L174.9,496.6 L175.2,497.2 L175.5,497.8 L175.8,497.9 L176.2,498.6 L176.5,499.6 L176.8,499.5 L177.1,500.5 L177.4,500.4 L177.8,500.5 L178.1,501.7 L178.4,501.8 L178.7,502.4 L179.0,503.0 L179.3,503.0 L179.7,503.8 L180.0,504.1 L180.3,504.6 L180.6,504.9 L180.9,505.4 L181.2,505.8 L181.6,505.7 L181.9,506.2 L182.2,506.9 L182.5,507.1 L182.8,507.4 L183.2,507.9 L183.5,508.1 L183.8,508.4 L184.1,508.5 L184.4,509.2 L184.7,509.3 L185.1,509.7 L185.4,510.0 L185.7,510.0 L186.0,510.5 L186.3,511.3 L186.6,511.0 L187.0,511.6 L187.3,511.8 L187.6,512.0 L187.9,512.2 L188.2,512.5 L188.6,512.8 L188.9,512.8 L189.2,513.1 L189.5,513.2 L189.8,513.6 L190.1,514.0 L190.5,513.9 L190.8,514.3 L191.1,514.6 L191.4,514.7 L191.7,514.9 L192.0,515.4 L192.4,515.3 L192.7,515.4 L193.0,515.7 L193.3,516.0 L193.6,516.0 L193.9,516.4 L194.3,516.5 L194.6,516.6 L194.9,516.8 L195.2,517.1 L195.5,517.0 L195.9,517.6 L196.2,517.4 L196.5,517.8 L196.8,517.7 L197.1,517.7 L197.4,517.9 L197.8,518.3 L198.1,518.6 L198.4,518.6 L198.7,519.0 L199.0,518.7 L199.3,519.4 L199.7,519.1 L200.0,519.6 L200.3,519.6 L200.6,519.5 L200.9,520.0 L201.2,520.0 L201.6,520.4 L201.9,519.8 L202.2,520.4 L202.5,520.3 L202.8,520.4 L203.2,520.8 L203.5,520.8 L203.8,520.7 L204.1,520.9 L204.4,521.1 L204.7,521.1 L205.1,521.4 L205.4,521.2 L205.7,521.3 L206.0,521.7 L206.3,521.4 L206.6,521.7 L207.0,521.8 L207.3,521.7 L207.6,522.1 L207.9,521.9 L208.2,522.0 L208.6,522.0 L208.9,521.9 L209.2,522.5 L209.5,522.4 L209.8,522.4 L210.1,522.5 L210.5,522.6 L210.8,522.6 L211.1,523.1 L211.4,523.0 L211.7,523.1 L212.0,523.0 L212.4,523.3 L212.7,523.1 L213.0,523.2 L213.3,523.3 L213.6,523.1 L213.9,523.3 L214.3,523.5 L214.6,523.6 L214.9,523.5 L215.2,523.2 L215.5,523.7 L215.9,523.8 L216.2,524.2 L216.5,523.7 L216.8,524.0 L217.1,524.2 L217.4,523.9" fill="none" stroke="#111111" stroke-width="1.5" stroke-linejoin="round"/>
<path d="M93.3,527.0 L93.6,506.3 L93.9,495.2 L94.3,489.4 L94.6,485.1 L94.9,482.6 L95.2,480.8 L95.5,479.4 L95.8,477.0 L96.2,475.7 L96.5,474.1 L96.8,474.5 L97.1,474.6 L97.4,475.2 L97.7,474.0 L98.1,477.2 L98.4,470.9 L98.7,469.8 L99.0,468.9 L99.3,466.3 L99.6,467.3 L100.0,466.1 L100.3,463.8 L100.6,467.6 L100.9,461.8 L101.2,461.9 L101.6,460.6 L101.9,463.4 L102.2,463.6 L102.5,458.1 L102.8,459.9 L103.1,460.3 L103.5,458.2 L103.8,454.6 L104.1,461.2 L104.4,455.5 L104.7,455.0 L105.0,452.9 L105.4,456.0 L105.7,454.3 L106.0,450.1 L106.3,451.5 L106.6,453.3 L107.0,453.6 L107.3,453.7 L107.6,450.5 L107.9,449.9 L108.2,450.9 L108.5,448.3 L108.9,451.0 L109.2,453.1 L109.5,445.0 L109.8,447.5 L110.1,443.5 L110.4,445.0 L110.8,446.0 L111.1,444.6 L111.4,446.8 L111.7,447.8 L112.0,446.7 L112.3,446.4 L112.7,443.4 L113.0,438.8 L113.3,443.3 L113.6,444.9 L113.9,441.9 L114.3,440.6 L114.6,438.4 L114.9,441.3 L115.2,439.6 L115.5,440.1 L115.8,443.8 L116.2,440.9 L116.5,443.8 L116.8,440.4 L117.1,440.7 L117.4,440.2 L117.7,434.3 L118.1,432.4 L118.4,433.7 L118.7,434.4 L119.0,437.4 L119.3,434.2 L119.7,433.8 L120.0,436.9 L120.3,440.3 L120.6,438.3 L120.9,437.4 L121.2,434.4 L121.6,437.1 L121.9,438.1 L122.2,435.5 L122.5,434.8 L122.8,432.3 L123.1,430.4 L123.5,433.9 L123.8,439.2 L124.1,436.4 L124.4,436.6 L124.7,434.3 L125.0,439.8 L125.4,436.7 L125.7,434.5 L126.0,434.7 L126.3,432.2 L126.6,431.8 L127.0,431.1 L127.3,428.2 L127.6,426.5 L127.9,425.8 L128.2,427.2 L128.5,428.4 L128.9,428.1 L129.2,428.4 L129.5,430.9 L129.8,429.6 L130.1,427.6 L130.4,429.5 L130.8,432.1 L131.1,429.6 L131.4,431.2 L131.7,433.7 L132.0,432.2 L132.4,434.1 L132.7,430.9 L133.0,431.1 L133.3,429.8 L133.6,426.5 L133.9,424.7 L134.3,426.5 L134.6,432.4 L134.9,431.5 L135.2,432.5 L135.5,428.3 L135.8,424.4 L136.2,424.2 L136.5,424.1 L136.8,424.3 L137.1,424.0 L137.4,426.2 L137.8,424.5 L138.1,426.3 L138.4,429.2 L138.7,427.9 L139.0,423.7 L139.3,425.4 L139.7,429.9 L140.0,425.5 L140.3,425.3 L140.6,424.4 L140.9,426.2 L141.2,425.0 L141.6,421.7 L141.9,425.1 L142.2,423.8 L142.5,423.8 L142.8,426.6 L143.1,425.7 L143.5,424.2 L143.8,426.7 L144.1,423.4 L144.4,426.8 L144.7,425.4 L145.1,426.6 L145.4,428.6 L145.7,432.5 L146.0,434.7 L146.3,439.0 L146.6,435.9 L147.0,433.7 L147.3,430.2 L147.6,426.2 L147.9,424.9 L148.2,424.4 L148.5,422.1 L148.9,423.2 L149.2,423.8 L149.5,426.7 L149.8,423.2 L150.1,425.2 L150.4,420.3 L150.8,424.0 L151.1,425.1 L151.4,424.4 L151.7,425.8 L152.0,428.3 L152.4,429.0 L152.7,428.5 L153.0,426.9 L153.3,423.3 L153.6,421.9 L153.9,422.0 L154.3,420.9 L154.6,427.1 L154.9,426.9 L155.2,426.7 L155.5,427.6 L155.8,424.6 L156.2,425.6 L156.5,427.1 L156.8,423.4 L157.1,424.8 L157.4,424.7 L157.8,427.5 L158.1,423.5 L158.4,423.2 L158.7,419.9 L159.0,416.3 L159.3,417.8 L159.7,421.0 L160.0,423.7 L160.3,419.6 L160.6,421.6 L160.9,420.8 L161.2,421.2 L161.6,429.7 L161.9,426.3 L162.2,424.4 L162.5,423.2 L162.8,423.3 L163.1,422.5 L163.5,424.9 L163.8,422.5 L164.1,423.8 L164.4,422.9 L164.7,419.0 L165.1,420.1 L165.4,423.6 L165.7,422.3 L166.0,425.7 L166.3,423.9 L166.6,420.1 L167.0,423.6 L167.3,423.4 L167.6,425.0 L167.9,423.4 L168.2,422.2 L168.5,421.9 L168.9,422.7 L169.2,426.9 L169.5,426.9 L169.8,440.4 L170.1,452.4 L170.5,460.4 L170.8,464.5 L171.1,468.0 L171.4,470.4 L171.7,471.5 L172.0,473.1 L172.4,474.6 L172.7,475.5 L173.0,476.5 L173.3,477.9 L173.6,478.3 L173.9,479.7 L174.3,480.3 L174.6,481.5 L174.9,482.6 L175.2,483.3 L175.5,484.1 L175.8,484.8 L176.2,486.0 L176.5,486.6 L176.8,487.2 L177.1,488.1 L177.4,488.9 L177.8,489.4 L178.1,490.5 L178.4,490.6 L178.7,491.8 L179.0,492.3 L179.3,493.0 L179.7,493.5 L180.0,494.4 L180.3,495.1 L180.6,495.5 L180.9,496.1 L181.2,496.8 L181.6,497.0 L181.9,497.8 L182.2,498.2 L182.5,498.8 L182.8,499.4 L183.2,500.2 L183.5,500.3 L183.8,501.2 L184.1,501.6 L184.4,501.9 L184.7,502.5 L185.1,503.3 L185.4,503.6 L185.7,504.2 L186.0,504.3 L186.3,505.0 L186.6,505.3 L187.0,505.9 L187.3,506.3 L187.6,506.5 L187.9,507.2 L188.2,507.4 L188.6,507.8 L188.9,508.2 L189.2,508.7 L189.5,508.6 L189.8,509.5 L190.1,509.8 L190.5,510.0 L190.8,510.2 L191.1,510.7 L191.4,511.2 L191.7,511.3 L192.0,511.7 L192.4,511.9 L192.7,511.8 L193.0,512.8 L193.3,512.7 L193.6,512.9 L193.9,513.3 L194.3,513.5 L194.6,513.5 L194.9,514.0 L195.2,514.6 L195.5,514.6 L195.9,514.7 L196.2,515.1 L196.5,515.3 L196.8,515.4 L197.1,515.8 L197.4,515.9 L197.8,516.0 L198.1,516.4 L198.4,516.8 L198.7,516.5 L199.0,516.8 L199.3,517.3 L199.7,517.6 L200.0,517.5 L200.3,517.6 L200.6,517.8 L200.9,518.0 L201.2,518.3 L201.6,518.5 L201.9,518.8 L202.2,518.9 L202.5,519.0 L202.8,518.8 L203.2,519.4 L203.5,519.0 L203.8,519.3 L204.1,519.7 L204.4,519.9 L204.7,519.9 L205.1,520.0 L205.4,520.1 L205.7,520.7 L206.0,520.5 L206.3,520.5 L206.6,520.5 L207.0,520.7 L207.3,521.0 L207.6,521.0 L207.9,521.3 L208.2,521.0 L208.6,521.2 L208.9,521.4 L209.2,521.7 L209.5,521.7 L209.8,521.8 L210.1,521.9 L210.5,521.7 L210.8,521.7 L211.1,522.0 L211.4,522.5 L211.7,522.3 L212.0,522.6 L212.4,522.6 L212.7,522.3 L213.0,523.1 L213.3,523.1 L213.6,523.0 L213.9,522.8 L214.3,523.1 L214.6,523.5 L214.9,523.1 L215.2,523.2 L215.5,523.1 L215.9,523.4 L216.2,523.3 L216.5,523.7 L216.8,523.5 L217.1,523.5 L217.4,523.8" fill="none" stroke="#e02020" stroke-width="1.5" stroke-linejoin="round"/>
<path d="M93.3,527.0 L93.6,504.7 L93.9,492.7 L94.3,486.3 L94.6,481.3 L94.9,480.0 L95.2,477.9 L95.5,475.6 L95.8,474.0 L96.2,472.6 L96.5,473.1 L96.8,469.6 L97.1,470.4 L97.4,469.6 L97.7,468.6 L98.1,467.7 L98.4,467.7 L98.7,463.5 L99.0,463.5 L99.3,461.2 L99.6,465.1 L100.0,462.1 L100.3,461.9 L100.6,460.1 L100.9,459.1 L101.2,457.8 L101.6,457.9 L101.9,457.2 L102.2,456.4 L102.5,455.4 L102.8,455.0 L103.1,455.4 L103.5,453.5 L103.8,455.0 L104.1,449.2 L104.4,448.3 L104.7,446.1 L105.0,448.2 L105.4,451.7 L105.7,453.9 L106.0,453.2 L106.3,452.2 L106.6,450.9 L107.0,449.9 L107.3,447.0 L107.6,451.7 L107.9,445.2 L108.2,445.8 L108.5,444.8 L108.9,448.4 L109.2,445.6 L109.5,447.6 L109.8,444.3 L110.1,442.7 L110.4,441.8 L110.8,442.0 L111.1,442.1 L111.4,442.0 L111.7,439.1 L112.0,439.2 L112.3,438.7 L112.7,433.5 L113.0,435.5 L113.3,438.7 L113.6,443.2 L113.9,446.0 L114.3,441.7 L114.6,437.6 L114.9,439.3 L115.2,440.4 L115.5,438.8 L115.8,437.0 L116.2,434.1 L116.5,434.7 L116.8,436.0 L117.1,433.7 L117.4,435.9 L117.7,438.1 L118.1,438.5 L118.4,436.8 L118.7,436.0 L119.0,434.5 L119.3,433.5 L119.7,427.6 L120.0,428.7 L120.3,434.7 L120.6,436.4 L120.9,433.7 L121.2,434.3 L121.6,427.9 L121.9,430.1 L122.2,431.1 L122.5,430.4 L122.8,430.7 L123.1,429.1 L123.5,429.9 L123.8,428.9 L124.1,430.4 L124.4,435.6 L124.7,431.6 L125.0,426.6 L125.4,429.5 L125.7,430.2 L126.0,427.5 L126.3,428.8 L126.6,428.1 L127.0,428.3 L127.3,426.6 L127.6,427.2 L127.9,422.7 L128.2,424.5 L128.5,426.1 L128.9,429.5 L129.2,427.9 L129.5,429.3 L129.8,426.5 L130.1,425.1 L130.4,419.6 L130.8,424.2 L131.1,424.6 L131.4,422.7 L131.7,428.4 L132.0,425.6 L132.4,421.4 L132.7,422.9 L133.0,423.9 L133.3,421.6 L133.6,422.4 L133.9,422.8 L134.3,421.7 L134.6,424.6 L134.9,420.3 L135.2,422.8 L135.5,423.4 L135.8,424.6 L136.2,430.0 L136.5,430.8 L136.8,428.5 L137.1,426.3 L137.4,422.6 L137.8,417.1 L138.1,418.4 L138.4,420.9 L138.7,423.4 L139.0,420.2 L139.3,422.9 L139.7,423.0 L140.0,420.0 L140.3,421.6 L140.6,422.5 L140.9,422.3 L141.2,426.1 L141.6,424.8 L141.9,423.4 L142.2,422.2 L142.5,423.1 L142.8,427.6 L143.1,426.9 L143.5,423.1 L143.8,424.4 L144.1,425.4 L144.4,422.7 L144.7,423.2 L145.1,425.0 L145.4,425.6 L145.7,425.8 L146.0,426.6 L146.3,427.3 L146.6,423.9 L147.0,427.9 L147.3,421.9 L147.6,422.0 L147.9,423.2 L148.2,419.8 L148.5,418.2 L148.9,422.3 L149.2,421.4 L149.5,419.5 L149.8,418.4 L150.1,419.6 L150.4,422.6 L150.8,422.1 L151.1,416.8 L151.4,420.7 L151.7,414.1 L152.0,417.3 L152.4,419.1 L152.7,421.1 L153.0,420.6 L153.3,420.2 L153.6,422.7 L153.9,417.3 L154.3,416.1 L154.6,417.3 L154.9,421.7 L155.2,422.0 L155.5,421.7 L155.8,419.4 L156.2,420.2 L156.5,422.8 L156.8,422.2 L157.1,421.8 L157.4,421.2 L157.8,418.9 L158.1,421.2 L158.4,424.2 L158.7,419.8 L159.0,417.9 L159.3,421.6 L159.7,419.4 L160.0,420.9 L160.3,419.0 L160.6,418.4 L160.9,422.3 L161.2,423.6 L161.6,422.4 L161.9,424.4 L162.2,425.1 L162.5,424.7 L162.8,423.0 L163.1,421.9 L163.5,422.7 L163.8,422.0 L164.1,418.5 L164.4,417.9 L164.7,417.9 L165.1,420.3 L165.4,421.6 L165.7,423.5 L166.0,423.8 L166.3,426.0 L166.6,423.6 L167.0,422.8 L167.3,422.9 L167.6,422.9 L167.9,424.3 L168.2,420.5 L168.5,418.4 L168.9,415.9 L169.2,416.3 L169.5,417.5 L169.8,439.5 L170.1,453.3 L170.5,461.3 L170.8,465.8 L171.1,469.2 L171.4,471.6 L171.7,473.1 L172.0,474.8 L172.4,475.9 L172.7,477.0 L173.0,478.4 L173.3,479.1 L173.6,480.0 L173.9,481.0 L174.3,482.0 L174.6,482.9 L174.9,484.1 L175.2,484.6 L175.5,485.1 L175.8,485.9 L176.2,486.9 L176.5,487.8 L176.8,488.2 L177.1,489.0 L177.4,489.8 L177.8,490.8 L178.1,491.2 L178.4,491.9 L178.7,492.8 L179.0,493.6 L179.3,494.1 L179.7,494.6 L180.0,495.2 L180.3,495.8 L180.6,496.5 L180.9,497.2 L181.2,497.6 L181.6,498.1 L181.9,498.8 L182.2,499.3 L182.5,499.9 L182.8,500.6 L183.2,501.0 L183.5,501.5 L183.8,502.2 L184.1,502.5 L184.4,503.0 L184.7,503.4 L185.1,503.7 L185.4,504.3 L185.7,504.8 L186.0,505.1 L186.3,505.8 L186.6,505.9 L187.0,506.2 L187.3,506.7 L187.6,506.9 L187.9,507.7 L188.2,508.3 L188.6,508.2 L188.9,508.3 L189.2,509.2 L189.5,509.1 L189.8,509.8 L190.1,509.8 L190.5,510.5 L190.8,510.8 L191.1,511.0 L191.4,511.6 L191.7,511.6 L192.0,512.0 L192.4,512.1 L192.7,512.5 L193.0,512.8 L193.3,513.1 L193.6,513.0 L193.9,513.5 L194.3,513.9 L194.6,514.5 L194.9,514.1 L195.2,514.6 L195.5,514.8 L195.9,515.0 L196.2,515.3 L196.5,515.3 L196.8,515.8 L197.1,515.9 L197.4,516.2 L197.8,516.3 L198.1,516.6 L198.4,516.7 L198.7,517.0 L199.0,517.2 L199.3,517.3 L199.7,517.7 L200.0,517.9 L200.3,518.0 L200.6,518.1 L200.9,518.1 L201.2,518.8 L201.6,518.4 L201.9,518.9 L202.2,519.1 L202.5,519.1 L202.8,519.2 L203.2,519.2 L203.5,520.0 L203.8,519.5 L204.1,519.8 L204.4,519.7 L204.7,520.2 L205.1,520.5 L205.4,520.4 L205.7,520.6 L206.0,520.5 L206.3,520.6 L206.6,521.3 L207.0,521.3 L207.3,521.1 L207.6,521.4 L207.9,521.2 L208.2,521.2 L208.6,521.2 L208.9,521.7 L209.2,521.6 L209.5,521.8 L209.8,521.9 L210.1,522.1 L210.5,522.0 L210.8,522.1 L211.1,522.4 L211.4,522.5 L211.7,522.9 L212.0,522.6 L212.4,522.7 L212.7,523.0 L213.0,522.6 L213.3,522.9 L213.6,523.2 L213.9,523.2 L214.3,523.4 L214.6,523.4 L214.9,523.6 L215.2,523.4 L215.5,523.8 L215.9,523.7 L216.2,523.6 L216.5,523.7 L216.8,523.7 L217.1,523.9 L217.4,524.0" fill="none" stroke="#1a1ae8" stroke-width="1.5" stroke-linejoin="round"/>
<rect x="174.5" y="407.3" width="53.19999999999999" height="28.099999999999966" fill="#fff" stroke="#c8c8c8" stroke-width="0.8"/>
<line x1="174.8" y1="412.4" x2="190.5" y2="412.4" stroke="#444" stroke-width="1.4"/>
<text x="192" y="415.0" font-family='"Liberation Sans", sans-serif' font-weight="bold" font-size="7.2" fill="#333">100-C</text>
<line x1="174.8" y1="420.7" x2="190.5" y2="420.7" stroke="#d86060" stroke-width="1.4"/>
<text x="192" y="423.3" font-family='"Liberation Sans", sans-serif' font-weight="bold" font-size="7.2" fill="#333">100-C/TiO<tspan font-size="5" dy="2">2</tspan></text>
<line x1="174.8" y1="431.8" x2="190.5" y2="431.8" stroke="#5a5ac8" stroke-width="1.4"/>
<text x="192" y="434.40000000000003" font-family='"Liberation Sans", sans-serif' font-weight="bold" font-size="7.2" fill="#333">100-TiC/C</text>
<line x1="236.5" y1="527.2" x2="238.5" y2="527.2" stroke="#999" stroke-width="0.8"/>
<text x="234.5" y="529.8" text-anchor="end" font-family='"Liberation Sans", sans-serif' font-weight="bold" font-size="7.5" fill="#333">0</text>
<line x1="236.5" y1="513.6" x2="238.5" y2="513.6" stroke="#999" stroke-width="0.8"/>
<text x="234.5" y="516.2" text-anchor="end" font-family='"Liberation Sans", sans-serif' font-weight="bold" font-size="7.5" fill="#333">5</text>
<line x1="236.5" y1="500.0" x2="238.5" y2="500.0" stroke="#999" stroke-width="0.8"/>
<text x="234.5" y="502.6" text-anchor="end" font-family='"Liberation Sans", sans-serif' font-weight="bold" font-size="7.5" fill="#333">10</text>
<line x1="236.5" y1="486.4" x2="238.5" y2="486.4" stroke="#999" stroke-width="0.8"/>
<text x="234.5" y="489.0" text-anchor="end" font-family='"Liberation Sans", sans-serif' font-weight="bold" font-size="7.5" fill="#333">15</text>
<line x1="236.5" y1="472.8" x2="238.5" y2="472.8" stroke="#999" stroke-width="0.8"/>
<text x="234.5" y="475.4" text-anchor="end" font-family='"Liberation Sans", sans-serif' font-weight="bold" font-size="7.5" fill="#333">20</text>
<line x1="236.5" y1="459.2" x2="238.5" y2="459.2" stroke="#999" stroke-width="0.8"/>
<text x="234.5" y="461.8" text-anchor="end" font-family='"Liberation Sans", sans-serif' font-weight="bold" font-size="7.5" fill="#333">25</text>
<line x1="236.5" y1="445.6" x2="238.5" y2="445.6" stroke="#999" stroke-width="0.8"/>
<text x="234.5" y="448.2" text-anchor="end" font-family='"Liberation Sans", sans-serif' font-weight="bold" font-size="7.5" fill="#333">30</text>
<line x1="236.5" y1="432.0" x2="238.5" y2="432.0" stroke="#999" stroke-width="0.8"/>
<text x="234.5" y="434.6" text-anchor="end" font-family='"Liberation Sans", sans-serif' font-weight="bold" font-size="7.5" fill="#333">35</text>
<line x1="236.5" y1="418.4" x2="238.5" y2="418.4" stroke="#999" stroke-width="0.8"/>
<text x="234.5" y="421.0" text-anchor="end" font-family='"Liberation Sans", sans-serif' font-weight="bold" font-size="7.5" fill="#333">40</text>
<path d="M252.6,527.2 L252.9,505.0 L253.2,492.6 L253.6,485.4 L253.9,481.3 L254.2,477.8 L254.5,476.5 L254.8,474.5 L255.1,472.8 L255.5,471.1 L255.8,471.5 L256.1,467.5 L256.4,467.1 L256.7,465.4 L257.0,463.8 L257.4,465.8 L257.7,466.4 L258.0,463.6 L258.3,463.3 L258.6,463.2 L258.9,462.7 L259.3,459.9 L259.6,459.6 L259.9,463.5 L260.2,461.0 L260.5,458.0 L260.9,457.7 L261.2,453.0 L261.5,456.8 L261.8,456.9 L262.1,451.3 L262.4,451.4 L262.8,450.0 L263.1,449.3 L263.4,447.9 L263.7,447.4 L264.0,450.5 L264.3,444.4 L264.7,446.3 L265.0,446.1 L265.3,443.8 L265.6,441.9 L265.9,442.3 L266.3,446.1 L266.6,447.5 L266.9,443.2 L267.2,441.6 L267.5,438.8 L267.8,437.6 L268.2,440.8 L268.5,441.1 L268.8,435.5 L269.1,438.8 L269.4,442.4 L269.7,436.6 L270.1,438.8 L270.4,436.2 L270.7,441.5 L271.0,442.2 L271.3,440.0 L271.6,438.9 L272.0,437.0 L272.3,435.3 L272.6,435.1 L272.9,439.7 L273.2,435.2 L273.6,433.2 L273.9,434.3 L274.2,434.5 L274.5,440.3 L274.8,437.3 L275.1,434.1 L275.5,435.8 L275.8,434.7 L276.1,436.0 L276.4,431.8 L276.7,427.5 L277.0,430.9 L277.4,433.3 L277.7,435.4 L278.0,430.7 L278.3,430.1 L278.6,430.6 L279.0,430.8 L279.3,433.1 L279.6,434.8 L279.9,432.2 L280.2,434.0 L280.5,432.5 L280.9,431.9 L281.2,427.1 L281.5,428.5 L281.8,435.4 L282.1,431.8 L282.4,430.8 L282.8,429.3 L283.1,431.4 L283.4,430.2 L283.7,432.0 L284.0,433.8 L284.4,429.7 L284.7,432.2 L285.0,429.6 L285.3,424.7 L285.6,425.6 L285.9,428.5 L286.3,429.9 L286.6,432.8 L286.9,430.4 L287.2,429.1 L287.5,429.0 L287.8,425.8 L288.2,428.3 L288.5,426.0 L288.8,426.3 L289.1,427.2 L289.4,428.7 L289.7,430.9 L290.1,431.1 L290.4,430.0 L290.7,429.2 L291.0,422.1 L291.3,423.7 L291.7,424.5 L292.0,424.4 L292.3,426.0 L292.6,426.7 L292.9,427.3 L293.2,431.2 L293.6,431.0 L293.9,426.2 L294.2,430.2 L294.5,428.2 L294.8,427.2 L295.1,426.4 L295.5,421.7 L295.8,420.6 L296.1,421.3 L296.4,423.7 L296.7,425.1 L297.1,427.4 L297.4,428.8 L297.7,429.0 L298.0,432.7 L298.3,431.7 L298.6,425.1 L299.0,429.5 L299.3,426.5 L299.6,428.7 L299.9,425.9 L300.2,421.5 L300.5,424.2 L300.9,426.0 L301.2,426.4 L301.5,425.6 L301.8,424.6 L302.1,430.7 L302.4,424.9 L302.8,425.0 L303.1,421.1 L303.4,426.1 L303.7,426.0 L304.0,426.9 L304.4,428.3 L304.7,427.8 L305.0,428.6 L305.3,428.2 L305.6,426.0 L305.9,422.5 L306.3,422.7 L306.6,422.9 L306.9,426.8 L307.2,428.8 L307.5,426.4 L307.8,425.2 L308.2,426.1 L308.5,425.1 L308.8,423.1 L309.1,424.6 L309.4,422.0 L309.8,423.0 L310.1,426.4 L310.4,426.3 L310.7,426.5 L311.0,426.2 L311.3,423.8 L311.7,421.5 L312.0,420.4 L312.3,421.8 L312.6,422.8 L312.9,419.6 L313.2,425.2 L313.6,425.4 L313.9,425.9 L314.2,422.6 L314.5,426.3 L314.8,425.0 L315.1,427.1 L315.5,427.8 L315.8,426.2 L316.1,428.0 L316.4,426.4 L316.7,424.8 L317.1,424.3 L317.4,424.2 L317.7,421.1 L318.0,420.7 L318.3,423.7 L318.6,425.7 L319.0,424.2 L319.3,425.9 L319.6,428.3 L319.9,424.4 L320.2,423.6 L320.5,421.6 L320.9,424.0 L321.2,420.6 L321.5,421.1 L321.8,420.3 L322.1,422.9 L322.4,427.2 L322.8,423.5 L323.1,424.6 L323.4,426.0 L323.7,426.0 L324.0,427.1 L324.4,422.2 L324.7,420.9 L325.0,423.2 L325.3,420.8 L325.6,420.1 L325.9,420.3 L326.3,421.1 L326.6,419.3 L326.9,420.3 L327.2,422.0 L327.5,424.3 L327.8,424.6 L328.2,426.6 L328.5,428.4 L328.8,425.2 L329.1,454.8 L329.4,473.3 L329.8,484.2 L330.1,490.3 L330.4,494.1 L330.7,496.7 L331.0,498.3 L331.3,499.2 L331.7,500.2 L332.0,500.7 L332.3,501.3 L332.6,502.1 L332.9,502.1 L333.2,502.8 L333.6,503.4 L333.9,503.7 L334.2,504.3 L334.5,504.7 L334.8,505.3 L335.1,505.6 L335.5,506.0 L335.8,506.2 L336.1,506.7 L336.4,507.0 L336.7,507.5 L337.1,507.9 L337.4,508.0 L337.7,508.2 L338.0,508.8 L338.3,509.3 L338.6,509.6 L339.0,509.9 L339.3,510.2 L339.6,510.3 L339.9,510.8 L340.2,511.1 L340.5,511.3 L340.9,511.8 L341.2,512.0 L341.5,512.2 L341.8,512.3 L342.1,513.0 L342.5,512.8 L342.8,513.1 L343.1,513.6 L343.4,513.8 L343.7,514.3 L344.0,514.2 L344.4,514.5 L344.7,514.8 L345.0,515.0 L345.3,515.1 L345.6,515.4 L345.9,515.4 L346.3,515.8 L346.6,516.4 L346.9,516.1 L347.2,516.5 L347.5,516.6 L347.9,517.1 L348.2,517.4 L348.5,517.4 L348.8,517.5 L349.1,517.8 L349.4,517.6 L349.8,517.7 L350.1,518.2 L350.4,518.2 L350.7,518.6 L351.0,518.8 L351.3,519.1 L351.7,519.1 L352.0,519.3 L352.3,519.4 L352.6,519.4 L352.9,519.3 L353.2,519.6 L353.6,519.6 L353.9,520.0 L354.2,520.4 L354.5,520.6 L354.8,520.6 L355.2,520.5 L355.5,520.3 L355.8,520.6 L356.1,521.0 L356.4,520.9 L356.7,521.1 L357.1,521.2 L357.4,521.1 L357.7,521.7 L358.0,521.5 L358.3,521.8 L358.6,521.8 L359.0,521.8 L359.3,521.7 L359.6,522.3 L359.9,522.1 L360.2,522.3 L360.6,522.3 L360.9,522.3 L361.2,522.4 L361.5,522.4 L361.8,522.7 L362.1,522.8 L362.5,522.7 L362.8,523.0 L363.1,522.9 L363.4,522.9 L363.7,523.2 L364.0,523.0 L364.4,523.4 L364.7,523.2 L365.0,523.4 L365.3,523.7 L365.6,523.5 L365.9,523.6 L366.3,523.9 L366.6,524.1 L366.9,523.8 L367.2,524.0 L367.5,524.1 L367.9,523.6 L368.2,524.1 L368.5,524.4 L368.8,524.2 L369.1,524.2 L369.4,524.4 L369.8,524.2 L370.1,524.3 L370.4,524.3 L370.7,524.7 L371.0,524.5 L371.3,524.5 L371.7,524.6 L372.0,524.6 L372.3,524.9 L372.6,524.7 L372.9,525.1 L373.2,524.7 L373.6,525.1 L373.9,524.9 L374.2,525.0 L374.5,525.0 L374.8,525.2 L375.2,524.9 L375.5,525.4 L375.8,525.1 L376.1,525.2 L376.4,525.4 L376.7,525.4" fill="none" stroke="#111111" stroke-width="1.5" stroke-linejoin="round"/>
<path d="M252.6,527.2 L252.9,507.0 L253.2,495.9 L253.6,489.4 L253.9,485.0 L254.2,484.0 L254.5,482.8 L254.8,481.9 L255.1,480.6 L255.5,479.3 L255.8,479.6 L256.1,477.3 L256.4,478.2 L256.7,475.3 L257.0,475.7 L257.4,473.5 L257.7,471.5 L258.0,471.2 L258.3,471.7 L258.6,472.2 L258.9,473.1 L259.3,466.5 L259.6,464.9 L259.9,460.4 L260.2,461.5 L260.5,461.8 L260.9,464.0 L261.2,464.1 L261.5,467.2 L261.8,462.0 L262.1,458.9 L262.4,455.7 L262.8,453.6 L263.1,458.6 L263.4,464.8 L263.7,459.6 L264.0,457.8 L264.3,459.7 L264.7,460.3 L265.0,456.0 L265.3,450.9 L265.6,451.2 L265.9,454.1 L266.3,451.5 L266.6,449.2 L266.9,453.6 L267.2,450.8 L267.5,453.5 L267.8,452.2 L268.2,450.1 L268.5,449.8 L268.8,453.5 L269.1,450.4 L269.4,453.2 L269.7,449.1 L270.1,453.3 L270.4,451.9 L270.7,450.8 L271.0,450.7 L271.3,448.0 L271.6,446.3 L272.0,441.1 L272.3,441.6 L272.6,440.1 L272.9,444.8 L273.2,441.6 L273.6,440.2 L273.9,437.9 L274.2,436.4 L274.5,441.4 L274.8,445.1 L275.1,445.6 L275.5,445.4 L275.8,439.9 L276.1,445.4 L276.4,443.1 L276.7,439.2 L277.0,440.0 L277.4,443.5 L277.7,444.0 L278.0,440.4 L278.3,437.8 L278.6,438.6 L279.0,437.6 L279.3,434.2 L279.6,436.7 L279.9,432.0 L280.2,437.0 L280.5,432.1 L280.9,438.0 L281.2,433.9 L281.5,435.0 L281.8,439.5 L282.1,437.6 L282.4,435.4 L282.8,433.9 L283.1,434.3 L283.4,435.1 L283.7,435.8 L284.0,435.1 L284.4,431.7 L284.7,431.7 L285.0,431.0 L285.3,431.9 L285.6,429.1 L285.9,424.9 L286.3,423.0 L286.6,430.8 L286.9,434.1 L287.2,436.3 L287.5,435.7 L287.8,429.2 L288.2,431.6 L288.5,431.7 L288.8,432.5 L289.1,437.2 L289.4,437.9 L289.7,437.0 L290.1,436.8 L290.4,435.3 L290.7,434.8 L291.0,433.8 L291.3,436.8 L291.7,431.5 L292.0,429.9 L292.3,432.2 L292.6,432.7 L292.9,434.0 L293.2,437.4 L293.6,432.4 L293.9,432.5 L294.2,428.6 L294.5,425.2 L294.8,430.8 L295.1,433.3 L295.5,430.2 L295.8,431.3 L296.1,432.2 L296.4,432.0 L296.7,429.6 L297.1,432.9 L297.4,430.9 L297.7,427.1 L298.0,429.3 L298.3,430.0 L298.6,428.2 L299.0,425.8 L299.3,424.4 L299.6,424.9 L299.9,422.2 L300.2,426.5 L300.5,422.9 L300.9,423.7 L301.2,426.4 L301.5,430.8 L301.8,425.4 L302.1,425.7 L302.4,425.1 L302.8,422.0 L303.1,425.5 L303.4,424.3 L303.7,423.3 L304.0,420.8 L304.4,422.8 L304.7,419.9 L305.0,424.5 L305.3,425.8 L305.6,428.0 L305.9,430.0 L306.3,424.1 L306.6,424.5 L306.9,425.6 L307.2,425.6 L307.5,425.6 L307.8,430.0 L308.2,429.6 L308.5,427.2 L308.8,430.0 L309.1,428.9 L309.4,428.8 L309.8,430.3 L310.1,432.0 L310.4,431.0 L310.7,428.2 L311.0,425.8 L311.3,430.0 L311.7,427.8 L312.0,425.4 L312.3,430.2 L312.6,431.8 L312.9,427.7 L313.2,424.9 L313.6,423.8 L313.9,420.4 L314.2,420.9 L314.5,419.4 L314.8,422.2 L315.1,423.7 L315.5,426.9 L315.8,426.0 L316.1,426.7 L316.4,427.7 L316.7,425.0 L317.1,424.2 L317.4,425.8 L317.7,425.0 L318.0,424.2 L318.3,423.5 L318.6,426.1 L319.0,423.9 L319.3,425.7 L319.6,424.6 L319.9,426.2 L320.2,420.3 L320.5,426.2 L320.9,423.0 L321.2,426.5 L321.5,421.5 L321.8,426.3 L322.1,423.8 L322.4,424.7 L322.8,422.3 L323.1,426.9 L323.4,426.8 L323.7,424.7 L324.0,422.5 L324.4,425.1 L324.7,430.0 L325.0,428.6 L325.3,428.7 L325.6,426.7 L325.9,427.0 L326.3,428.7 L326.6,427.4 L326.9,422.4 L327.2,421.9 L327.5,424.1 L327.8,422.7 L328.2,427.3 L328.5,427.7 L328.8,426.5 L329.1,449.0 L329.4,464.9 L329.8,474.1 L330.1,479.4 L330.4,483.2 L330.7,485.4 L331.0,486.7 L331.3,488.7 L331.7,489.2 L332.0,489.9 L332.3,491.1 L332.6,491.6 L332.9,491.9 L333.2,492.8 L333.6,493.4 L333.9,493.7 L334.2,495.0 L334.5,495.1 L334.8,496.1 L335.1,496.4 L335.5,496.9 L335.8,497.5 L336.1,498.1 L336.4,498.5 L336.7,499.0 L337.1,499.5 L337.4,500.0 L337.7,500.5 L338.0,500.8 L338.3,501.7 L338.6,502.4 L339.0,502.8 L339.3,503.0 L339.6,503.6 L339.9,503.9 L340.2,504.2 L340.5,504.4 L340.9,505.3 L341.2,505.4 L341.5,506.1 L341.8,506.1 L342.1,507.0 L342.5,506.7 L342.8,507.4 L343.1,507.4 L343.4,508.1 L343.7,508.6 L344.0,508.9 L344.4,509.2 L344.7,509.4 L345.0,509.6 L345.3,510.0 L345.6,510.5 L345.9,510.8 L346.3,510.7 L346.6,511.5 L346.9,511.5 L347.2,512.0 L347.5,512.3 L347.9,512.3 L348.2,513.0 L348.5,512.7 L348.8,512.9 L349.1,513.6 L349.4,513.9 L349.8,514.0 L350.1,514.3 L350.4,514.6 L350.7,514.5 L351.0,514.5 L351.3,515.1 L351.7,515.2 L352.0,515.6 L352.3,515.8 L352.6,516.1 L352.9,516.2 L353.2,516.4 L353.6,516.6 L353.9,516.7 L354.2,517.1 L354.5,517.1 L354.8,517.6 L355.2,517.4 L355.5,517.7 L355.8,517.8 L356.1,518.0 L356.4,518.2 L356.7,518.3 L357.1,518.6 L357.4,518.7 L357.7,519.2 L358.0,519.1 L358.3,519.1 L358.6,519.5 L359.0,519.0 L359.3,519.3 L359.6,520.0 L359.9,519.5 L360.2,519.9 L360.6,520.0 L360.9,520.0 L361.2,520.5 L361.5,520.4 L361.8,520.4 L362.1,520.9 L362.5,520.9 L362.8,521.0 L363.1,521.0 L363.4,521.4 L363.7,521.3 L364.0,521.5 L364.4,521.4 L364.7,521.7 L365.0,521.6 L365.3,521.8 L365.6,522.0 L365.9,521.9 L366.3,522.0 L366.6,522.2 L366.9,522.1 L367.2,522.1 L367.5,522.8 L367.9,522.4 L368.2,523.0 L368.5,522.7 L368.8,522.7 L369.1,522.8 L369.4,522.9 L369.8,523.0 L370.1,523.0 L370.4,523.4 L370.7,522.9 L371.0,523.7 L371.3,523.4 L371.7,523.7 L372.0,523.6 L372.3,523.7 L372.6,523.9 L372.9,523.5 L373.2,523.9 L373.6,524.0 L373.9,523.9 L374.2,523.8 L374.5,523.9 L374.8,524.2 L375.2,524.1 L375.5,524.2 L375.8,524.3 L376.1,524.4 L376.4,524.3 L376.7,524.7" fill="none" stroke="#e02020" stroke-width="1.5" stroke-linejoin="round"/>
<path d="M252.6,527.2 L252.9,505.4 L253.2,493.7 L253.6,487.1 L253.9,482.8 L254.2,480.5 L254.5,479.8 L254.8,477.6 L255.1,476.4 L255.5,475.4 L255.8,474.0 L256.1,472.6 L256.4,470.0 L256.7,468.8 L257.0,468.6 L257.4,469.6 L257.7,470.4 L258.0,468.0 L258.3,463.9 L258.6,464.0 L258.9,464.1 L259.3,462.2 L259.6,465.7 L259.9,464.5 L260.2,461.5 L260.5,458.6 L260.9,459.4 L261.2,458.0 L261.5,457.2 L261.8,455.2 L262.1,458.4 L262.4,455.8 L262.8,459.1 L263.1,463.4 L263.4,460.5 L263.7,459.4 L264.0,454.2 L264.3,451.5 L264.7,454.4 L265.0,450.7 L265.3,452.9 L265.6,451.7 L265.9,451.2 L266.3,449.8 L266.6,447.0 L266.9,445.7 L267.2,445.5 L267.5,444.4 L267.8,444.0 L268.2,446.3 L268.5,447.5 L268.8,447.4 L269.1,444.8 L269.4,445.0 L269.7,438.6 L270.1,442.6 L270.4,445.3 L270.7,442.0 L271.0,438.4 L271.3,438.5 L271.6,437.6 L272.0,435.5 L272.3,437.9 L272.6,442.3 L272.9,442.4 L273.2,438.6 L273.6,442.3 L273.9,440.5 L274.2,438.9 L274.5,439.2 L274.8,436.7 L275.1,435.5 L275.5,430.5 L275.8,431.8 L276.1,435.3 L276.4,437.1 L276.7,438.5 L277.0,434.9 L277.4,436.4 L277.7,436.0 L278.0,433.6 L278.3,435.8 L278.6,435.8 L279.0,439.5 L279.3,439.6 L279.6,438.2 L279.9,435.0 L280.2,431.2 L280.5,432.0 L280.9,431.6 L281.2,431.6 L281.5,429.2 L281.8,428.3 L282.1,429.2 L282.4,432.7 L282.8,429.9 L283.1,429.6 L283.4,427.2 L283.7,428.9 L284.0,424.9 L284.4,428.3 L284.7,425.3 L285.0,427.2 L285.3,429.7 L285.6,432.5 L285.9,431.6 L286.3,427.1 L286.6,426.1 L286.9,425.8 L287.2,433.1 L287.5,429.4 L287.8,427.8 L288.2,429.5 L288.5,430.5 L288.8,429.5 L289.1,424.7 L289.4,428.8 L289.7,429.4 L290.1,425.4 L290.4,427.5 L290.7,428.4 L291.0,427.7 L291.3,430.6 L291.7,428.5 L292.0,430.8 L292.3,426.9 L292.6,426.9 L292.9,421.2 L293.2,423.0 L293.6,421.2 L293.9,426.8 L294.2,426.9 L294.5,425.8 L294.8,421.7 L295.1,427.8 L295.5,424.5 L295.8,423.7 L296.1,420.9 L296.4,421.3 L296.7,423.1 L297.1,425.5 L297.4,428.5 L297.7,426.6 L298.0,426.5 L298.3,421.0 L298.6,424.4 L299.0,423.9 L299.3,428.2 L299.6,427.7 L299.9,425.8 L300.2,423.3 L300.5,420.4 L300.9,422.4 L301.2,426.1 L301.5,424.3 L301.8,423.1 L302.1,422.5 L302.4,425.0 L302.8,421.9 L303.1,422.7 L303.4,421.7 L303.7,419.7 L304.0,420.1 L304.4,421.2 L304.7,417.2 L305.0,419.6 L305.3,422.2 L305.6,422.7 L305.9,419.5 L306.3,421.1 L306.6,421.0 L306.9,419.2 L307.2,422.4 L307.5,427.2 L307.8,424.8 L308.2,423.6 L308.5,425.0 L308.8,422.1 L309.1,421.2 L309.4,424.6 L309.8,422.7 L310.1,423.4 L310.4,426.9 L310.7,424.1 L311.0,423.8 L311.3,425.3 L311.7,423.0 L312.0,421.8 L312.3,423.7 L312.6,422.4 L312.9,420.1 L313.2,423.1 L313.6,422.0 L313.9,422.4 L314.2,417.0 L314.5,424.1 L314.8,421.8 L315.1,422.9 L315.5,423.1 L315.8,418.2 L316.1,420.2 L316.4,415.8 L316.7,419.9 L317.1,420.2 L317.4,422.5 L317.7,424.2 L318.0,423.2 L318.3,423.6 L318.6,422.5 L319.0,427.6 L319.3,420.4 L319.6,421.7 L319.9,417.7 L320.2,422.2 L320.5,421.5 L320.9,414.1 L321.2,419.9 L321.5,424.6 L321.8,424.9 L322.1,422.5 L322.4,420.6 L322.8,418.2 L323.1,420.6 L323.4,425.2 L323.7,424.9 L324.0,420.6 L324.4,420.1 L324.7,425.8 L325.0,424.2 L325.3,419.8 L325.6,415.6 L325.9,417.1 L326.3,418.5 L326.6,423.1 L326.9,424.6 L327.2,423.3 L327.5,421.2 L327.8,419.8 L328.2,421.5 L328.5,424.0 L328.8,424.3 L329.1,448.3 L329.4,464.7 L329.8,475.0 L330.1,480.5 L330.4,484.0 L330.7,486.1 L331.0,488.0 L331.3,489.0 L331.7,490.2 L332.0,491.1 L332.3,491.9 L332.6,492.2 L332.9,492.9 L333.2,493.7 L333.6,493.8 L333.9,495.0 L334.2,495.4 L334.5,496.1 L334.8,496.7 L335.1,496.9 L335.5,497.5 L335.8,498.6 L336.1,498.9 L336.4,499.3 L336.7,499.7 L337.1,500.6 L337.4,501.2 L337.7,501.6 L338.0,501.8 L338.3,502.3 L338.6,502.7 L339.0,503.3 L339.3,503.8 L339.6,504.4 L339.9,504.4 L340.2,504.8 L340.5,505.1 L340.9,505.5 L341.2,506.1 L341.5,506.2 L341.8,506.8 L342.1,507.3 L342.5,507.6 L342.8,508.0 L343.1,508.6 L343.4,508.6 L343.7,508.9 L344.0,509.3 L344.4,509.7 L344.7,509.9 L345.0,510.0 L345.3,510.5 L345.6,510.9 L345.9,511.2 L346.3,511.5 L346.6,511.9 L346.9,512.0 L347.2,512.3 L347.5,512.3 L347.9,512.7 L348.2,512.9 L348.5,513.5 L348.8,513.5 L349.1,514.0 L349.4,514.0 L349.8,514.3 L350.1,514.7 L350.4,514.5 L350.7,514.9 L351.0,515.5 L351.3,515.4 L351.7,515.7 L352.0,515.9 L352.3,516.0 L352.6,516.2 L352.9,516.8 L353.2,516.9 L353.6,516.7 L353.9,516.8 L354.2,516.9 L354.5,517.1 L354.8,517.9 L355.2,517.6 L355.5,518.3 L355.8,517.8 L356.1,518.2 L356.4,518.6 L356.7,518.3 L357.1,518.6 L357.4,519.2 L357.7,519.0 L358.0,519.3 L358.3,519.3 L358.6,519.6 L359.0,519.4 L359.3,520.0 L359.6,519.9 L359.9,519.7 L360.2,520.3 L360.6,520.3 L360.9,520.4 L361.2,520.7 L361.5,520.6 L361.8,520.8 L362.1,521.1 L362.5,520.7 L362.8,521.0 L363.1,521.3 L363.4,521.5 L363.7,521.6 L364.0,521.4 L364.4,521.7 L364.7,521.7 L365.0,521.9 L365.3,521.9 L365.6,522.1 L365.9,522.0 L366.3,522.3 L366.6,522.2 L366.9,522.3 L367.2,522.5 L367.5,522.7 L367.9,522.8 L368.2,522.9 L368.5,523.0 L368.8,522.8 L369.1,523.0 L369.4,522.8 L369.8,522.8 L370.1,523.2 L370.4,523.5 L370.7,523.4 L371.0,523.4 L371.3,523.7 L371.7,523.6 L372.0,523.6 L372.3,523.8 L372.6,523.9 L372.9,523.9 L373.2,523.6 L373.6,524.0 L373.9,524.1 L374.2,524.1 L374.5,524.0 L374.8,524.3 L375.2,524.2 L375.5,524.2 L375.8,524.2 L376.1,524.2 L376.4,524.5 L376.7,524.3" fill="none" stroke="#1a1ae8" stroke-width="1.5" stroke-linejoin="round"/>
<rect x="342.5" y="407.3" width="53.69999999999999" height="28.099999999999966" fill="#fff" stroke="#c8c8c8" stroke-width="0.8"/>
<line x1="343.5" y1="412.4" x2="359" y2="412.4" stroke="#444" stroke-width="1.4"/>
<text x="361" y="415.0" font-family='"Liberation Sans", sans-serif' font-weight="bold" font-size="7.2" fill="#333">120-C</text>
<line x1="343.5" y1="420.7" x2="359" y2="420.7" stroke="#d86060" stroke-width="1.4"/>
<text x="361" y="423.3" font-family='"Liberation Sans", sans-serif' font-weight="bold" font-size="7.2" fill="#333">120-C/TiO<tspan font-size="5" dy="2">2</tspan></text>
<line x1="343.5" y1="432.3" x2="359" y2="432.3" stroke="#5a5ac8" stroke-width="1.4"/>
<text x="361" y="434.90000000000003" font-family='"Liberation Sans", sans-serif' font-weight="bold" font-size="7.2" fill="#333">120-TiC/C</text>
<line x1="77.5" y1="288" x2="396.5" y2="288" stroke="#9a9a9a" stroke-width="1"/>
<line x1="77.5" y1="407.3" x2="396.5" y2="407.3" stroke="#9a9a9a" stroke-width="1"/>
<line x1="77.5" y1="527" x2="396.5" y2="527" stroke="#9a9a9a" stroke-width="1"/>
<line x1="77.5" y1="288" x2="77.5" y2="527" stroke="#9a9a9a" stroke-width="1"/>
<line x1="236.5" y1="288" x2="236.5" y2="527" stroke="#9a9a9a" stroke-width="1"/>
<line x1="396.5" y1="288" x2="396.5" y2="527" stroke="#9a9a9a" stroke-width="1"/>
<line x1="93.3" y1="527" x2="93.3" y2="525" stroke="#999" stroke-width="0.8"/>
<text x="93.3" y="535" text-anchor="middle" font-family='"Liberation Sans", sans-serif' font-weight="bold" font-size="7.5" fill="#333">0</text>
<line x1="125.0" y1="527" x2="125.0" y2="525" stroke="#999" stroke-width="0.8"/>
<text x="125.0" y="535" text-anchor="middle" font-family='"Liberation Sans", sans-serif' font-weight="bold" font-size="7.5" fill="#333">200</text>
<line x1="156.8" y1="527" x2="156.8" y2="525" stroke="#999" stroke-width="0.8"/>
<text x="156.8" y="535" text-anchor="middle" font-family='"Liberation Sans", sans-serif' font-weight="bold" font-size="7.5" fill="#333">400</text>
<line x1="188.6" y1="527" x2="188.6" y2="525" stroke="#999" stroke-width="0.8"/>
<text x="188.6" y="535" text-anchor="middle" font-family='"Liberation Sans", sans-serif' font-weight="bold" font-size="7.5" fill="#333">600</text>
<line x1="220.3" y1="527" x2="220.3" y2="525" stroke="#999" stroke-width="0.8"/>
<text x="220.3" y="535" text-anchor="middle" font-family='"Liberation Sans", sans-serif' font-weight="bold" font-size="7.5" fill="#333">800</text>
<line x1="252.6" y1="527" x2="252.6" y2="525" stroke="#999" stroke-width="0.8"/>
<text x="252.6" y="535" text-anchor="middle" font-family='"Liberation Sans", sans-serif' font-weight="bold" font-size="7.5" fill="#333">0</text>
<line x1="284.4" y1="527" x2="284.4" y2="525" stroke="#999" stroke-width="0.8"/>
<text x="284.4" y="535" text-anchor="middle" font-family='"Liberation Sans", sans-serif' font-weight="bold" font-size="7.5" fill="#333">200</text>
<line x1="316.1" y1="527" x2="316.1" y2="525" stroke="#999" stroke-width="0.8"/>
<text x="316.1" y="535" text-anchor="middle" font-family='"Liberation Sans", sans-serif' font-weight="bold" font-size="7.5" fill="#333">400</text>
<line x1="347.9" y1="527" x2="347.9" y2="525" stroke="#999" stroke-width="0.8"/>
<text x="347.9" y="535" text-anchor="middle" font-family='"Liberation Sans", sans-serif' font-weight="bold" font-size="7.5" fill="#333">600</text>
<line x1="379.6" y1="527" x2="379.6" y2="525" stroke="#999" stroke-width="0.8"/>
<text x="379.6" y="535" text-anchor="middle" font-family='"Liberation Sans", sans-serif' font-weight="bold" font-size="7.5" fill="#333">800</text>
<text x="238.6" y="553" text-anchor="middle" font-family='"Liberation Sans", sans-serif' font-weight="bold" font-size="10.5" fill="#222">Time(s)</text>
<text transform="translate(50.6 407.8) rotate(-90)" text-anchor="middle" font-family='"Liberation Sans", sans-serif' font-weight="bold" font-size="9.8" fill="#222">Temperature variation <tspan font-weight="normal">(°C)</tspan></text>
<text x="413.3" y="307" font-family='"Liberation Serif", serif' font-size="22.5" fill="#111" stroke="#111" stroke-width="0.25" textLength="22.9" lengthAdjust="spacingAndGlyphs">(e)</text>
<line x1="506.0" y1="511.3" x2="506.0" y2="508.1" stroke="#444" stroke-width="1"/>
<text x="506.0" y="524.4" text-anchor="middle" font-family='"Liberation Sans", sans-serif' font-weight="bold" font-size="11" fill="#222">60</text>
<line x1="526.9" y1="511.3" x2="526.9" y2="509.3" stroke="#444" stroke-width="1"/>
<line x1="547.9" y1="511.3" x2="547.9" y2="508.1" stroke="#444" stroke-width="1"/>
<text x="547.9" y="524.4" text-anchor="middle" font-family='"Liberation Sans", sans-serif' font-weight="bold" font-size="11" fill="#222">70</text>
<line x1="568.9" y1="511.3" x2="568.9" y2="509.3" stroke="#444" stroke-width="1"/>
<line x1="589.9" y1="511.3" x2="589.9" y2="508.1" stroke="#444" stroke-width="1"/>
<text x="589.9" y="524.4" text-anchor="middle" font-family='"Liberation Sans", sans-serif' font-weight="bold" font-size="11" fill="#222">80</text>
<line x1="610.8" y1="511.3" x2="610.8" y2="509.3" stroke="#444" stroke-width="1"/>
<line x1="631.8" y1="511.3" x2="631.8" y2="508.1" stroke="#444" stroke-width="1"/>
<text x="631.8" y="524.4" text-anchor="middle" font-family='"Liberation Sans", sans-serif' font-weight="bold" font-size="11" fill="#222">90</text>
<line x1="652.8" y1="511.3" x2="652.8" y2="509.3" stroke="#444" stroke-width="1"/>
<line x1="673.7" y1="511.3" x2="673.7" y2="508.1" stroke="#444" stroke-width="1"/>
<text x="673.7" y="524.4" text-anchor="middle" font-family='"Liberation Sans", sans-serif' font-weight="bold" font-size="11" fill="#222">100</text>
<line x1="694.7" y1="511.3" x2="694.7" y2="509.3" stroke="#444" stroke-width="1"/>
<line x1="715.7" y1="511.3" x2="715.7" y2="508.1" stroke="#444" stroke-width="1"/>
<text x="715.7" y="524.4" text-anchor="middle" font-family='"Liberation Sans", sans-serif' font-weight="bold" font-size="11" fill="#222">110</text>
<line x1="736.7" y1="511.3" x2="736.7" y2="509.3" stroke="#444" stroke-width="1"/>
<line x1="757.6" y1="511.3" x2="757.6" y2="508.1" stroke="#444" stroke-width="1"/>
<text x="757.6" y="524.4" text-anchor="middle" font-family='"Liberation Sans", sans-serif' font-weight="bold" font-size="11" fill="#222">120</text>
<line x1="485" y1="511.3" x2="488.2" y2="511.3" stroke="#444" stroke-width="1"/>
<line x1="778.6" y1="511.3" x2="775.4" y2="511.3" stroke="#444" stroke-width="1"/>
<text x="480.4" y="514.2" text-anchor="end" font-family='"Liberation Sans", sans-serif' font-weight="bold" font-size="11.2" fill="#222">20</text>
<line x1="485" y1="486.5" x2="487" y2="486.5" stroke="#444" stroke-width="1"/>
<line x1="778.6" y1="486.5" x2="776.6" y2="486.5" stroke="#444" stroke-width="1"/>
<line x1="485" y1="461.6" x2="488.2" y2="461.6" stroke="#444" stroke-width="1"/>
<line x1="778.6" y1="461.6" x2="775.4" y2="461.6" stroke="#444" stroke-width="1"/>
<text x="480.4" y="464.5" text-anchor="end" font-family='"Liberation Sans", sans-serif' font-weight="bold" font-size="11.2" fill="#222">25</text>
<line x1="485" y1="436.8" x2="487" y2="436.8" stroke="#444" stroke-width="1"/>
<line x1="778.6" y1="436.8" x2="776.6" y2="436.8" stroke="#444" stroke-width="1"/>
<line x1="485" y1="412.0" x2="488.2" y2="412.0" stroke="#444" stroke-width="1"/>
<line x1="778.6" y1="412.0" x2="775.4" y2="412.0" stroke="#444" stroke-width="1"/>
<text x="480.4" y="414.9" text-anchor="end" font-family='"Liberation Sans", sans-serif' font-weight="bold" font-size="11.2" fill="#222">30</text>
<line x1="485" y1="387.1" x2="487" y2="387.1" stroke="#444" stroke-width="1"/>
<line x1="778.6" y1="387.1" x2="776.6" y2="387.1" stroke="#444" stroke-width="1"/>
<line x1="485" y1="362.3" x2="488.2" y2="362.3" stroke="#444" stroke-width="1"/>
<line x1="778.6" y1="362.3" x2="775.4" y2="362.3" stroke="#444" stroke-width="1"/>
<text x="480.4" y="365.2" text-anchor="end" font-family='"Liberation Sans", sans-serif' font-weight="bold" font-size="11.2" fill="#222">35</text>
<line x1="485" y1="337.5" x2="487" y2="337.5" stroke="#444" stroke-width="1"/>
<line x1="778.6" y1="337.5" x2="776.6" y2="337.5" stroke="#444" stroke-width="1"/>
<line x1="485" y1="312.7" x2="488.2" y2="312.7" stroke="#444" stroke-width="1"/>
<line x1="778.6" y1="312.7" x2="775.4" y2="312.7" stroke="#444" stroke-width="1"/>
<text x="480.4" y="315.6" text-anchor="end" font-family='"Liberation Sans", sans-serif' font-weight="bold" font-size="11.2" fill="#222">40</text>
<rect x="485" y="292.2" width="293.6" height="219.10000000000002" fill="none" stroke="#505050" stroke-width="1.6"/>
<polyline points="506.0,497.9 589.9,444.2 673.7,377.0 757.6,325.1" fill="none" stroke="#111111" stroke-width="2.2"/>
<polyline points="506.0,494.6 589.9,442.0 673.7,369.5 757.6,324.1" fill="none" stroke="#e01818" stroke-width="2.2"/>
<polyline points="506.0,492.1 589.9,435.8 673.7,360.0 757.6,322.8" fill="none" stroke="#1010e0" stroke-width="2.2"/>
<path d="M506.0,492.9 V502.9 M503.5,492.9 h5 M503.5,502.9 h5" stroke="#222" stroke-width="1" fill="none"/>
<rect x="503.8" y="495.7" width="4.4" height="4.4" fill="#111111"/>
<path d="M589.9,438.7 V449.6 M587.4,438.7 h5 M587.4,449.6 h5" stroke="#222" stroke-width="1" fill="none"/>
<rect x="587.7" y="442.0" width="4.4" height="4.4" fill="#111111"/>
<path d="M673.7,373.0 V381.0 M671.2,373.0 h5 M671.2,381.0 h5" stroke="#222" stroke-width="1" fill="none"/>
<rect x="671.5" y="374.8" width="4.4" height="4.4" fill="#111111"/>
<path d="M757.6,320.1 V330.0 M755.1,320.1 h5 M755.1,330.0 h5" stroke="#222" stroke-width="1" fill="none"/>
<rect x="755.4" y="322.9" width="4.4" height="4.4" fill="#111111"/>
<path d="M506.0,491.6 V497.6 M503.5,491.6 h5 M503.5,497.6 h5" stroke="#c02020" stroke-width="1" fill="none"/>
<circle cx="506.0" cy="494.6" r="2.4" fill="#e01818"/>
<path d="M589.9,438.5 V445.5 M587.4,438.5 h5 M587.4,445.5 h5" stroke="#c02020" stroke-width="1" fill="none"/>
<circle cx="589.9" cy="442.0" r="2.4" fill="#e01818"/>
<path d="M673.7,366.5 V372.5 M671.2,366.5 h5 M671.2,372.5 h5" stroke="#c02020" stroke-width="1" fill="none"/>
<circle cx="673.7" cy="369.5" r="2.4" fill="#e01818"/>
<path d="M757.6,320.1 V328.1 M755.1,320.1 h5 M755.1,328.1 h5" stroke="#c02020" stroke-width="1" fill="none"/>
<circle cx="757.6" cy="324.1" r="2.4" fill="#e01818"/>
<path d="M506.0,488.2 V496.1 M503.5,488.2 h5 M503.5,496.1 h5" stroke="#3030d0" stroke-width="1" fill="none"/>
<polygon points="506.0,489.3 503.4,493.9 508.6,493.9" fill="#1010e0"/>
<path d="M589.9,429.9 V441.8 M587.4,429.9 h5 M587.4,441.8 h5" stroke="#3030d0" stroke-width="1" fill="none"/>
<polygon points="589.9,433.0 587.3,437.6 592.5,437.6" fill="#1010e0"/>
<path d="M673.7,357.1 V363.0 M671.2,357.1 h5 M671.2,363.0 h5" stroke="#3030d0" stroke-width="1" fill="none"/>
<polygon points="673.7,357.2 671.1,361.8 676.3,361.8" fill="#1010e0"/>
<path d="M757.6,313.4 V332.2 M755.1,313.4 h5 M755.1,332.2 h5" stroke="#3030d0" stroke-width="1" fill="none"/>
<polygon points="757.6,320.0 755.0,324.6 760.2,324.6" fill="#1010e0"/>
<rect x="485" y="292.2" width="83.70000000000005" height="56.5" fill="#fff" stroke="#505050" stroke-width="1.2"/>
<line x1="491.3" y1="303.2" x2="521.9" y2="303.2" stroke="#111111" stroke-width="2.2"/>
<rect x="504.40000000000003" y="301.0" width="4.4" height="4.4" fill="#111111"/>
<text x="525" y="308.2" font-family='"Liberation Sans", sans-serif' font-weight="bold" font-size="13.2" fill="#222">C</text>
<line x1="491.3" y1="320.3" x2="521.9" y2="320.3" stroke="#e01818" stroke-width="2.2"/>
<circle cx="506.6" cy="320.3" r="2.4" fill="#e01818"/>
<text x="525" y="325.3" font-family='"Liberation Sans", sans-serif' font-weight="bold" font-size="13.2" fill="#222">C/TiO<tspan font-size="8" dy="3">2</tspan></text>
<line x1="491.3" y1="339.9" x2="521.9" y2="339.9" stroke="#1010e0" stroke-width="2.2"/>
<polygon points="506.6,337.09999999999997 504.0,341.7 509.20000000000005,341.7" fill="#1010e0"/>
<text x="525" y="344.9" font-family='"Liberation Sans", sans-serif' font-weight="bold" font-size="13.2" fill="#222">TiC/C</text>
<text x="632" y="551" text-anchor="middle" font-family='"Liberation Sans", sans-serif' font-weight="bold" font-size="16" fill="#222">Intensity (W/m<tspan font-size="10" dy="-6">2</tspan><tspan dy="6">)</tspan></text>
<text transform="translate(458.2 412.6) rotate(-90)" text-anchor="middle" font-family='"Liberation Sans", sans-serif' font-weight="bold" font-size="16" fill="#222">Average temperature variation <tspan font-weight="normal" font-size="14">(°C)</tspan></text>
<path d="M443.4,579 V561.6 H818" fill="none" stroke="#d8d8d8" stroke-width="1.2"/>
</svg>
</body></html>
